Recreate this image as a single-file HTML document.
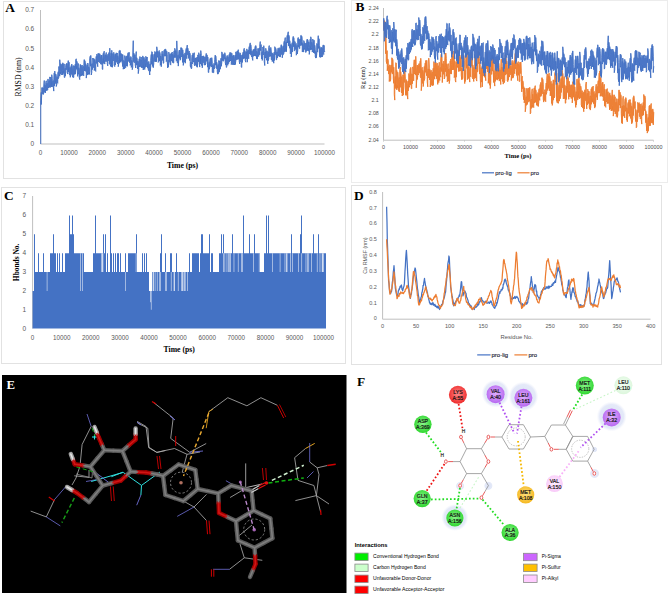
<!DOCTYPE html>
<html><head><meta charset="utf-8"><style>
html,body{margin:0;padding:0;background:#fff;}
svg{display:block;}
</style></head><body>
<svg width="669" height="595" viewBox="0 0 669 595">
<rect width="669" height="595" fill="#fff"/>
<rect x="3.5" y="1.5" width="341" height="177" fill="none" stroke="#e2e2e2" stroke-width="1"/>
<rect x="351.5" y="0.5" width="316" height="182" fill="none" stroke="#ececec" stroke-width="1"/>
<rect x="1.5" y="187.5" width="344" height="176" fill="none" stroke="#e2e2e2" stroke-width="1"/>
<rect x="351.5" y="185.5" width="310" height="179" fill="none" stroke="#e2e2e2" stroke-width="1"/>
<text x="5.3" y="11.8" font-size="13.4" fill="#000" font-family="'Liberation Serif', serif" text-anchor="start" font-weight="bold" >A</text>
<line x1="40.5" y1="10" x2="40.5" y2="144.0" stroke="#bfbfbf" stroke-width="1"/>
<line x1="40.5" y1="144.0" x2="324.5" y2="144.0" stroke="#bfbfbf" stroke-width="1"/>
<text x="34.2" y="146.3" font-size="6.5" fill="#595959" font-family="'Liberation Sans', sans-serif" text-anchor="end" font-weight="normal" >0</text>
<text x="34.2" y="127.16" font-size="6.5" fill="#595959" font-family="'Liberation Sans', sans-serif" text-anchor="end" font-weight="normal" >0.1</text>
<text x="34.2" y="108.02" font-size="6.5" fill="#595959" font-family="'Liberation Sans', sans-serif" text-anchor="end" font-weight="normal" >0.2</text>
<text x="34.2" y="88.88" font-size="6.5" fill="#595959" font-family="'Liberation Sans', sans-serif" text-anchor="end" font-weight="normal" >0.3</text>
<text x="34.2" y="69.74" font-size="6.5" fill="#595959" font-family="'Liberation Sans', sans-serif" text-anchor="end" font-weight="normal" >0.4</text>
<text x="34.2" y="50.599999999999994" font-size="6.5" fill="#595959" font-family="'Liberation Sans', sans-serif" text-anchor="end" font-weight="normal" >0.5</text>
<text x="34.2" y="31.459999999999997" font-size="6.5" fill="#595959" font-family="'Liberation Sans', sans-serif" text-anchor="end" font-weight="normal" >0.6</text>
<text x="34.2" y="12.319999999999983" font-size="6.5" fill="#595959" font-family="'Liberation Sans', sans-serif" text-anchor="end" font-weight="normal" >0.7</text>
<text x="40.5" y="155.3" font-size="6.3" fill="#595959" font-family="'Liberation Sans', sans-serif" text-anchor="middle" font-weight="normal" >0</text>
<text x="68.9" y="155.3" font-size="6.3" fill="#595959" font-family="'Liberation Sans', sans-serif" text-anchor="middle" font-weight="normal" >10000</text>
<text x="97.3" y="155.3" font-size="6.3" fill="#595959" font-family="'Liberation Sans', sans-serif" text-anchor="middle" font-weight="normal" >20000</text>
<text x="125.69999999999999" y="155.3" font-size="6.3" fill="#595959" font-family="'Liberation Sans', sans-serif" text-anchor="middle" font-weight="normal" >30000</text>
<text x="154.1" y="155.3" font-size="6.3" fill="#595959" font-family="'Liberation Sans', sans-serif" text-anchor="middle" font-weight="normal" >40000</text>
<text x="182.5" y="155.3" font-size="6.3" fill="#595959" font-family="'Liberation Sans', sans-serif" text-anchor="middle" font-weight="normal" >50000</text>
<text x="210.89999999999998" y="155.3" font-size="6.3" fill="#595959" font-family="'Liberation Sans', sans-serif" text-anchor="middle" font-weight="normal" >60000</text>
<text x="239.29999999999998" y="155.3" font-size="6.3" fill="#595959" font-family="'Liberation Sans', sans-serif" text-anchor="middle" font-weight="normal" >70000</text>
<text x="267.7" y="155.3" font-size="6.3" fill="#595959" font-family="'Liberation Sans', sans-serif" text-anchor="middle" font-weight="normal" >80000</text>
<text x="296.1" y="155.3" font-size="6.3" fill="#595959" font-family="'Liberation Sans', sans-serif" text-anchor="middle" font-weight="normal" >90000</text>
<text x="324.5" y="155.3" font-size="6.3" fill="#595959" font-family="'Liberation Sans', sans-serif" text-anchor="middle" font-weight="normal" >100000</text>
<text x="182.5" y="167.5" font-size="7.7" fill="#000" font-family="'Liberation Serif', serif" text-anchor="middle" font-weight="bold" >Time (ps)</text>
<text transform="translate(21.3,77) rotate(-90)" font-size="8" font-family="'Liberation Serif', serif" text-anchor="middle" fill="#000" textLength="39" lengthAdjust="spacingAndGlyphs">RMSD (nm)</text>
<polyline points="40.75,144.0 40.75,100.8 41.25,92.4 41.25,104.5 41.75,93.0 41.75,87.7 42.25,87.4 42.25,93.6 42.75,93.9 42.75,87.9 43.25,87.8 43.25,94.5 43.75,93.1 43.75,87.3 44.25,80.5 44.25,91.9 44.75,92.0 44.75,84.7 45.25,85.5 45.25,93.0 45.75,88.8 45.75,82.8 46.25,80.8 46.25,87.9 46.75,90.8 46.75,83.3 47.25,83.4 47.25,89.7 47.75,90.1 47.75,79.2 48.25,79.2 48.25,87.1 48.75,88.0 48.75,82.6 49.25,80.5 49.25,87.3 49.75,84.9 49.75,76.9 50.25,79.3 50.25,87.5 50.75,86.5 50.75,77.0 51.25,78.9 51.25,87.0 51.75,81.1 51.75,74.7 52.25,78.5 52.25,86.8 52.75,85.5 52.75,81.6 53.25,80.6 53.25,86.6 53.75,91.1 53.75,82.1 54.25,72.9 54.25,86.1 54.75,82.3 54.75,71.1 55.25,76.2 55.25,83.6 55.75,79.1 55.75,74.1 56.25,75.7 56.25,86.5 56.75,84.7 56.75,78.1 57.25,76.8 57.25,82.4 57.75,83.3 57.75,74.2 58.25,71.7 58.25,78.7 58.75,77.6 58.75,66.6 59.25,66.5 59.25,73.8 59.75,76.2 59.75,59.7 60.25,66.9 60.25,74.1 60.75,71.6 60.75,63.7 61.25,65.9 61.25,74.9 61.75,73.7 61.75,65.0 62.25,64.0 62.25,70.5 62.75,75.0 62.75,62.8 63.25,66.5 63.25,73.6 63.75,70.2 63.75,63.8 64.25,64.0 64.25,77.4 64.75,77.6 64.75,69.5 65.25,68.2 65.25,76.2 65.75,72.1 65.75,65.4 66.25,64.0 66.25,69.8 66.75,69.4 66.75,63.2 67.25,65.3 67.25,72.4 67.75,74.1 67.75,65.7 68.25,60.6 68.25,72.1 68.75,66.9 68.75,62.0 69.25,62.4 69.25,73.7 69.75,75.2 69.75,67.5 70.25,67.6 70.25,77.3 70.75,74.5 70.75,68.1 71.25,65.5 71.25,74.5 71.75,74.0 71.75,64.1 72.25,71.1 72.25,75.5 72.75,77.2 72.75,68.0 73.25,65.5 73.25,77.6 73.75,77.4 73.75,70.0 74.25,65.9 74.25,73.0 74.75,74.5 74.75,69.5 75.25,64.2 75.25,74.0 75.75,69.1 75.75,59.9 76.25,58.8 76.25,65.4 76.75,69.4 76.75,61.2 77.25,63.0 77.25,71.2 77.75,76.4 77.75,67.2 78.25,63.5 78.25,72.8 78.75,74.4 78.75,67.7 79.25,70.4 79.25,77.6 79.75,79.6 79.75,72.0 80.25,64.4 80.25,76.4 80.75,73.9 80.75,64.9 81.25,66.2 81.25,73.3 81.75,75.9 81.75,66.3 82.25,65.1 82.25,75.2 82.75,72.9 82.75,68.1 83.25,66.3 83.25,75.4 83.75,76.0 83.75,68.8 84.25,59.6 84.25,66.7 84.75,71.0 84.75,60.6 85.25,62.2 85.25,70.9 85.75,71.4 85.75,63.7 86.25,67.7 86.25,78.1 86.75,74.4 86.75,66.6 87.25,65.0 87.25,75.0 87.75,71.2 87.75,63.0 88.25,65.3 88.25,74.4 88.75,72.6 88.75,67.1 89.25,68.5 89.25,74.5 89.75,71.4 89.75,58.8 90.25,56.2 90.25,63.0 90.75,66.3 90.75,55.4 91.25,65.8 91.25,75.0 91.75,72.6 91.75,64.2 92.25,63.6 92.25,69.7 92.75,66.7 92.75,58.0 93.25,60.6 93.25,66.3 93.75,67.7 93.75,58.4 94.25,60.9 94.25,70.5 94.75,68.3 94.75,59.4 95.25,63.2 95.25,70.3 95.75,71.4 95.75,63.4 96.25,56.4 96.25,63.4 96.75,63.2 96.75,54.2 97.25,55.6 97.25,63.9 97.75,66.7 97.75,55.4 98.25,53.2 98.25,61.9 98.75,61.0 98.75,54.0 99.25,53.6 99.25,61.3 99.75,62.7 99.75,53.8 100.25,56.4 100.25,62.3 100.75,63.9 100.75,57.8 101.25,55.1 101.25,64.5 101.75,64.0 101.75,55.0 102.25,61.0 102.25,69.2 102.75,69.5 102.75,60.6 103.25,53.4 103.25,63.5 103.75,57.7 103.75,52.2 104.25,51.2 104.25,59.6 104.75,64.1 104.75,58.2 105.25,54.8 105.25,61.6 105.75,61.2 105.75,55.2 106.25,52.5 106.25,60.6 106.75,61.6 106.75,55.3 107.25,55.9 107.25,63.7 107.75,65.9 107.75,54.6 108.25,53.9 108.25,60.8 108.75,59.8 108.75,52.7 109.25,52.5 109.25,64.2 109.75,63.8 109.75,48.2 110.25,55.7 110.25,64.2 110.75,66.5 110.75,57.8 111.25,53.0 111.25,60.3 111.75,67.0 111.75,50.3 112.25,58.7 112.25,67.3 112.75,64.5 112.75,53.6 113.25,54.7 113.25,60.8 113.75,59.5 113.75,52.3 114.25,56.0 114.25,65.4 114.75,66.6 114.75,59.2 115.25,54.1 115.25,65.1 115.75,62.5 115.75,55.9 116.25,52.8 116.25,61.9 116.75,61.7 116.75,55.6 117.25,53.0 117.25,62.8 117.75,64.0 117.75,55.7 118.25,59.3 118.25,66.7 118.75,63.6 118.75,59.4 119.25,50.7 119.25,63.2 119.75,58.0 119.75,50.4 120.25,50.6 120.25,58.6 120.75,62.3 120.75,53.3 121.25,53.7 121.25,60.4 121.75,61.3 121.75,54.2 122.25,54.6 122.25,62.3 122.75,66.6 122.75,54.6 123.25,63.0 123.25,69.2 123.75,66.4 123.75,60.4 124.25,61.1 124.25,69.0 124.75,62.1 124.75,55.6 125.25,59.0 125.25,67.7 125.75,67.8 125.75,58.8 126.25,56.2 126.25,65.9 126.75,64.8 126.75,58.2 127.25,55.6 127.25,66.4 127.75,59.4 127.75,53.5 128.25,52.6 128.25,61.5 128.75,61.1 128.75,54.0 129.25,52.4 129.25,58.5 129.75,62.8 129.75,57.8 130.25,57.6 130.25,65.4 130.75,62.7 130.75,56.5 131.25,57.3 131.25,67.4 131.75,65.3 131.75,60.4 132.25,63.5 132.25,69.7 132.75,67.2 132.75,57.4 133.25,40.7 133.25,61.7 133.75,61.4 133.75,53.0 134.25,56.9 134.25,62.8 134.75,61.8 134.75,54.6 135.25,58.0 135.25,65.1 135.75,68.0 135.75,56.4 136.25,51.6 136.25,60.9 136.75,65.1 136.75,57.7 137.25,60.2 137.25,65.7 137.75,69.0 137.75,61.1 138.25,62.0 138.25,73.6 138.75,70.0 138.75,62.6 139.25,58.8 139.25,67.0 139.75,64.8 139.75,56.6 140.25,56.8 140.25,66.7 140.75,66.7 140.75,59.7 141.25,60.0 141.25,65.4 141.75,67.8 141.75,57.1 142.25,61.7 142.25,67.8 142.75,67.5 142.75,55.9 143.25,58.1 143.25,70.0 143.75,63.1 143.75,57.5 144.25,57.5 144.25,65.9 144.75,69.5 144.75,59.9 145.25,59.4 145.25,67.4 145.75,62.7 145.75,56.3 146.25,57.0 146.25,65.5 146.75,66.8 146.75,57.8 147.25,57.0 147.25,65.2 147.75,68.2 147.75,62.4 148.25,64.9 148.25,70.1 148.75,70.7 148.75,61.4 149.25,65.5 149.25,70.5 149.75,75.0 149.75,64.4 150.25,64.0 150.25,71.3 150.75,66.4 150.75,60.2 151.25,54.5 151.25,64.4 151.75,60.4 151.75,51.6 152.25,52.0 152.25,61.2 152.75,66.5 152.75,54.5 153.25,62.6 153.25,67.7 153.75,63.8 153.75,57.8 154.25,54.1 154.25,61.4 154.75,61.4 154.75,51.5 155.25,52.1 155.25,58.2 155.75,61.9 155.75,54.5 156.25,51.6 156.25,61.8 156.75,56.0 156.75,46.8 157.25,50.4 157.25,55.9 157.75,57.4 157.75,51.5 158.25,54.4 158.25,62.4 158.75,61.9 158.75,51.7 159.25,50.5 159.25,57.5 159.75,61.0 159.75,52.3 160.25,55.1 160.25,65.3 160.75,64.2 160.75,56.1 161.25,59.2 161.25,66.7 161.75,59.7 161.75,53.4 162.25,51.2 162.25,59.1 162.75,60.5 162.75,53.7 163.25,57.9 163.25,63.4 163.75,63.0 163.75,51.5 164.25,50.2 164.25,56.0 164.75,56.1 164.75,49.3 165.25,49.0 165.25,54.2 165.75,56.2 165.75,49.5 166.25,52.5 166.25,61.6 166.75,60.1 166.75,51.3 167.25,54.7 167.25,61.9 167.75,68.0 167.75,61.5 168.25,60.2 168.25,67.0 168.75,62.9 168.75,52.1 169.25,53.9 169.25,61.6 169.75,62.3 169.75,55.6 170.25,54.2 170.25,64.4 170.75,65.1 170.75,57.0 171.25,53.0 171.25,60.8 171.75,61.0 171.75,53.3 172.25,52.0 172.25,59.8 172.75,62.6 172.75,54.3 173.25,56.1 173.25,63.1 173.75,62.9 173.75,52.7 174.25,50.8 174.25,57.7 174.75,54.7 174.75,48.3 175.25,50.0 175.25,57.2 175.75,57.6 175.75,50.7 176.25,53.6 176.25,61.2 176.75,60.7 176.75,40.9 177.25,53.0 177.25,62.9 177.75,63.0 177.75,55.5 178.25,55.2 178.25,66.1 178.75,60.3 178.75,53.2 179.25,50.2 179.25,56.0 179.75,58.5 179.75,50.0 180.25,54.1 180.25,60.2 180.75,55.2 180.75,47.7 181.25,47.5 181.25,55.5 181.75,56.9 181.75,48.0 182.25,51.0 182.25,57.9 182.75,62.5 182.75,49.8 183.25,58.3 183.25,65.4 183.75,62.2 183.75,54.4 184.25,55.4 184.25,62.0 184.75,60.4 184.75,53.1 185.25,53.1 185.25,63.2 185.75,58.3 185.75,51.9 186.25,48.4 186.25,58.2 186.75,58.6 186.75,48.5 187.25,45.1 187.25,54.9 187.75,54.5 187.75,48.1 188.25,51.3 188.25,58.4 188.75,57.3 188.75,52.4 189.25,51.0 189.25,58.4 189.75,60.6 189.75,52.9 190.25,55.2 190.25,66.1 190.75,67.4 190.75,62.0 191.25,62.3 191.25,68.9 191.75,68.2 191.75,59.0 192.25,55.0 192.25,64.0 192.75,62.6 192.75,53.3 193.25,53.4 193.25,60.6 193.75,62.0 193.75,55.4 194.25,52.7 194.25,64.4 194.75,65.9 194.75,59.5 195.25,58.0 195.25,65.2 195.75,64.9 195.75,57.9 196.25,57.7 196.25,63.7 196.75,66.6 196.75,58.7 197.25,57.1 197.25,67.3 197.75,61.6 197.75,54.9 198.25,55.9 198.25,61.9 198.75,59.0 198.75,52.7 199.25,57.0 199.25,64.2 199.75,67.1 199.75,59.5 200.25,54.1 200.25,64.1 200.75,56.0 200.75,50.6 201.25,55.3 201.25,62.5 201.75,65.6 201.75,56.8 202.25,56.0 202.25,67.8 202.75,63.7 202.75,57.3 203.25,55.8 203.25,61.6 203.75,62.7 203.75,56.6 204.25,58.4 204.25,65.0 204.75,65.0 204.75,56.8 205.25,57.6 205.25,65.1 205.75,63.9 205.75,57.0 206.25,53.4 206.25,61.3 206.75,61.0 206.75,55.3 207.25,55.1 207.25,61.5 207.75,67.2 207.75,57.0 208.25,63.0 208.25,72.4 208.75,72.5 208.75,66.1 209.25,62.4 209.25,69.3 209.75,67.3 209.75,60.4 210.25,58.4 210.25,65.9 210.75,66.4 210.75,57.9 211.25,59.7 211.25,65.3 211.75,67.0 211.75,57.7 212.25,63.7 212.25,72.5 212.75,72.3 212.75,65.1 213.25,65.5 213.25,72.7 213.75,72.6 213.75,63.5 214.25,63.5 214.25,68.9 214.75,67.9 214.75,59.7 215.25,55.1 215.25,61.3 215.75,65.2 215.75,56.1 216.25,61.2 216.25,67.9 216.75,68.7 216.75,62.3 217.25,65.7 217.25,71.8 217.75,74.2 217.75,67.0 218.25,64.5 218.25,73.7 218.75,72.3 218.75,60.5 219.25,62.5 219.25,71.9 219.75,67.9 219.75,60.8 220.25,62.2 220.25,69.2 220.75,65.0 220.75,58.6 221.25,58.1 221.25,66.3 221.75,62.9 221.75,51.9 222.25,53.0 222.25,58.7 222.75,60.7 222.75,54.7 223.25,55.6 223.25,61.3 223.75,60.5 223.75,54.0 224.25,54.4 224.25,59.3 224.75,58.4 224.75,52.7 225.25,54.8 225.25,62.6 225.75,65.1 225.75,57.6 226.25,58.8 226.25,67.4 226.75,67.2 226.75,56.3 227.25,55.4 227.25,61.1 227.75,65.3 227.75,56.6 228.25,58.8 228.25,63.5 228.75,63.6 228.75,56.7 229.25,54.4 229.25,61.9 229.75,59.6 229.75,52.6 230.25,53.1 230.25,61.0 230.75,59.7 230.75,52.4 231.25,57.7 231.25,64.5 231.75,63.1 231.75,53.2 232.25,58.2 232.25,64.7 232.75,63.4 232.75,55.8 233.25,55.5 233.25,64.9 233.75,62.8 233.75,55.2 234.25,58.5 234.25,63.8 234.75,65.0 234.75,59.1 235.25,55.2 235.25,64.5 235.75,61.2 235.75,51.9 236.25,52.8 236.25,60.1 236.75,59.5 236.75,52.4 237.25,51.0 237.25,58.2 237.75,59.5 237.75,52.0 238.25,49.7 238.25,59.0 238.75,59.0 238.75,52.2 239.25,54.4 239.25,61.6 239.75,64.0 239.75,54.9 240.25,52.9 240.25,62.0 240.75,61.6 240.75,54.8 241.25,55.5 241.25,67.1 241.75,67.5 241.75,59.7 242.25,54.8 242.25,62.5 242.75,58.9 242.75,53.3 243.25,52.1 243.25,58.8 243.75,57.0 243.75,49.8 244.25,48.3 244.25,58.5 244.75,56.3 244.75,50.5 245.25,52.0 245.25,60.7 245.75,62.2 245.75,54.4 246.25,51.8 246.25,58.8 246.75,57.2 246.75,48.9 247.25,50.6 247.25,62.2 247.75,56.3 247.75,51.7 248.25,50.2 248.25,58.0 248.75,58.7 248.75,51.1 249.25,46.6 249.25,54.1 249.75,52.0 249.75,45.0 250.25,42.9 250.25,48.5 250.75,54.8 250.75,44.8 251.25,48.7 251.25,55.5 251.75,56.9 251.75,51.3 252.25,51.1 252.25,58.1 252.75,60.4 252.75,53.8 253.25,49.6 253.25,56.4 253.75,55.0 253.75,49.9 254.25,48.9 254.25,54.1 254.75,56.0 254.75,51.5 255.25,46.4 255.25,54.1 255.75,56.2 255.75,45.5 256.25,48.4 256.25,54.7 256.75,58.9 256.75,51.3 257.25,52.7 257.25,59.1 257.75,54.5 257.75,48.5 258.25,48.6 258.25,56.2 258.75,56.5 258.75,49.5 259.25,48.1 259.25,54.5 259.75,54.8 259.75,46.4 260.25,41.6 260.25,48.8 260.75,50.7 260.75,45.2 261.25,44.7 261.25,54.9 261.75,59.0 261.75,53.1 262.25,51.6 262.25,60.4 262.75,56.3 262.75,47.0 263.25,47.9 263.25,54.9 263.75,54.1 263.75,45.7 264.25,51.6 264.25,61.8 264.75,65.5 264.75,55.2 265.25,51.7 265.25,58.0 265.75,57.0 265.75,48.3 266.25,51.9 266.25,58.4 266.75,60.3 266.75,51.0 267.25,50.9 267.25,57.7 267.75,63.9 267.75,53.7 268.25,51.9 268.25,60.7 268.75,58.9 268.75,47.5 269.25,45.6 269.25,56.3 269.75,56.7 269.75,48.7 270.25,48.9 270.25,54.7 270.75,56.4 270.75,47.4 271.25,52.2 271.25,59.7 271.75,60.0 271.75,52.6 272.25,53.2 272.25,61.6 272.75,59.6 272.75,53.5 273.25,53.7 273.25,58.8 273.75,63.2 273.75,57.4 274.25,52.0 274.25,60.6 274.75,56.5 274.75,46.7 275.25,47.8 275.25,54.6 275.75,54.6 275.75,48.4 276.25,51.2 276.25,59.8 276.75,59.6 276.75,52.1 277.25,51.8 277.25,58.0 277.75,54.1 277.75,49.4 278.25,47.9 278.25,53.8 278.75,56.1 278.75,49.0 279.25,49.7 279.25,56.8 279.75,55.9 279.75,47.7 280.25,50.7 280.25,57.1 280.75,53.9 280.75,47.8 281.25,44.7 281.25,53.2 281.75,54.6 281.75,45.6 282.25,52.0 282.25,57.8 282.75,54.6 282.75,48.0 283.25,46.2 283.25,54.6 283.75,53.8 283.75,44.4 284.25,41.3 284.25,52.2 284.75,47.7 284.75,40.9 285.25,37.6 285.25,51.3 285.75,51.3 285.75,44.4 286.25,41.9 286.25,51.8 286.75,45.2 286.75,39.4 287.25,35.4 287.25,43.0 287.75,40.9 287.75,34.0 288.25,31.8 288.25,40.1 288.75,46.1 288.75,35.2 289.25,36.5 289.25,44.2 289.75,48.3 289.75,40.7 290.25,46.1 290.25,53.8 290.75,53.1 290.75,44.2 291.25,47.4 291.25,56.9 291.75,51.5 291.75,44.6 292.25,42.6 292.25,52.0 292.75,45.9 292.75,38.8 293.25,36.4 293.25,42.1 293.75,46.8 293.75,37.7 294.25,44.4 294.25,51.1 294.75,50.3 294.75,41.4 295.25,42.2 295.25,49.5 295.75,49.1 295.75,44.4 296.25,43.5 296.25,55.2 296.75,53.9 296.75,46.2 297.25,45.3 297.25,54.0 297.75,50.8 297.75,38.5 298.25,37.5 298.25,44.7 298.75,47.2 298.75,38.7 299.25,40.9 299.25,48.6 299.75,48.6 299.75,39.4 300.25,39.0 300.25,45.5 300.75,45.5 300.75,35.5 301.25,35.4 301.25,41.6 301.75,45.4 301.75,36.3 302.25,41.6 302.25,52.0 302.75,51.2 302.75,43.4 303.25,45.8 303.25,52.1 303.75,47.2 303.75,40.6 304.25,41.7 304.25,47.8 304.75,49.6 304.75,42.9 305.25,45.4 305.25,51.4 305.75,52.5 305.75,43.3 306.25,43.1 306.25,51.5 306.75,50.0 306.75,41.1 307.25,39.1 307.25,50.8 307.75,45.0 307.75,39.8 308.25,42.9 308.25,47.5 308.75,51.2 308.75,41.9 309.25,47.3 309.25,54.4 309.75,50.4 309.75,44.5 310.25,39.2 310.25,50.0 310.75,45.3 310.75,36.8 311.25,39.3 311.25,47.3 311.75,49.8 311.75,42.3 312.25,45.2 312.25,52.1 312.75,50.1 312.75,39.1 313.25,41.7 313.25,50.0 313.75,53.0 313.75,40.3 314.25,40.3 314.25,48.4 314.75,53.5 314.75,45.3 315.25,49.7 315.25,56.5 315.75,58.1 315.75,51.7 316.25,51.5 316.25,57.8 316.75,54.0 316.75,43.5 317.25,44.1 317.25,51.1 317.75,52.2 317.75,45.8 318.25,35.7 318.25,48.5 318.75,46.0 318.75,38.5 319.25,39.2 319.25,47.1 319.75,56.9 319.75,46.5 320.25,48.3 320.25,57.5 320.75,54.7 320.75,49.5 321.25,47.5 321.25,57.1 321.75,56.0 321.75,47.5 322.25,48.9 322.25,56.9 322.75,55.3 322.75,47.2 323.25,44.9 323.25,53.7 323.75,54.5 323.75,45.1 324.25,45.8 324.25,52.0 324.75,51.5 324.75,51.5" fill="none" stroke="#4472c4" stroke-width="1.0" stroke-linejoin="round"/>
<text x="355.5" y="10.8" font-size="13.4" fill="#000" font-family="'Liberation Serif', serif" text-anchor="start" font-weight="bold" >B</text>
<line x1="383.5" y1="8" x2="383.5" y2="140.2" stroke="#bfbfbf" stroke-width="1"/>
<line x1="383.5" y1="140.2" x2="653.5" y2="140.2" stroke="#bfbfbf" stroke-width="1"/>
<text x="378.8" y="141.6" font-size="5.3" fill="#505050" font-family="'Liberation Sans', sans-serif" text-anchor="end" font-weight="normal" >2.04</text>
<text x="378.8" y="128.45" font-size="5.3" fill="#505050" font-family="'Liberation Sans', sans-serif" text-anchor="end" font-weight="normal" >2.06</text>
<text x="378.8" y="115.3" font-size="5.3" fill="#505050" font-family="'Liberation Sans', sans-serif" text-anchor="end" font-weight="normal" >2.08</text>
<text x="378.8" y="102.14999999999999" font-size="5.3" fill="#505050" font-family="'Liberation Sans', sans-serif" text-anchor="end" font-weight="normal" >2.1</text>
<text x="378.8" y="89.0" font-size="5.3" fill="#505050" font-family="'Liberation Sans', sans-serif" text-anchor="end" font-weight="normal" >2.12</text>
<text x="378.8" y="75.85" font-size="5.3" fill="#505050" font-family="'Liberation Sans', sans-serif" text-anchor="end" font-weight="normal" >2.14</text>
<text x="378.8" y="62.69999999999998" font-size="5.3" fill="#505050" font-family="'Liberation Sans', sans-serif" text-anchor="end" font-weight="normal" >2.16</text>
<text x="378.8" y="49.54999999999999" font-size="5.3" fill="#505050" font-family="'Liberation Sans', sans-serif" text-anchor="end" font-weight="normal" >2.18</text>
<text x="378.8" y="36.399999999999984" font-size="5.3" fill="#505050" font-family="'Liberation Sans', sans-serif" text-anchor="end" font-weight="normal" >2.2</text>
<text x="378.8" y="23.24999999999998" font-size="5.3" fill="#505050" font-family="'Liberation Sans', sans-serif" text-anchor="end" font-weight="normal" >2.22</text>
<text x="378.8" y="10.099999999999989" font-size="5.3" fill="#505050" font-family="'Liberation Sans', sans-serif" text-anchor="end" font-weight="normal" >2.24</text>
<line x1="383.5" y1="140.2" x2="383.5" y2="141.7" stroke="#bfbfbf" stroke-width="0.7"/>
<text x="383.5" y="149.2" font-size="5.35" fill="#505050" font-family="'Liberation Sans', sans-serif" text-anchor="middle" font-weight="normal" >0</text>
<line x1="410.5" y1="140.2" x2="410.5" y2="141.7" stroke="#bfbfbf" stroke-width="0.7"/>
<text x="410.5" y="149.2" font-size="5.35" fill="#505050" font-family="'Liberation Sans', sans-serif" text-anchor="middle" font-weight="normal" >10000</text>
<line x1="437.5" y1="140.2" x2="437.5" y2="141.7" stroke="#bfbfbf" stroke-width="0.7"/>
<text x="437.5" y="149.2" font-size="5.35" fill="#505050" font-family="'Liberation Sans', sans-serif" text-anchor="middle" font-weight="normal" >20000</text>
<line x1="464.5" y1="140.2" x2="464.5" y2="141.7" stroke="#bfbfbf" stroke-width="0.7"/>
<text x="464.5" y="149.2" font-size="5.35" fill="#505050" font-family="'Liberation Sans', sans-serif" text-anchor="middle" font-weight="normal" >30000</text>
<line x1="491.5" y1="140.2" x2="491.5" y2="141.7" stroke="#bfbfbf" stroke-width="0.7"/>
<text x="491.5" y="149.2" font-size="5.35" fill="#505050" font-family="'Liberation Sans', sans-serif" text-anchor="middle" font-weight="normal" >40000</text>
<line x1="518.5" y1="140.2" x2="518.5" y2="141.7" stroke="#bfbfbf" stroke-width="0.7"/>
<text x="518.5" y="149.2" font-size="5.35" fill="#505050" font-family="'Liberation Sans', sans-serif" text-anchor="middle" font-weight="normal" >50000</text>
<line x1="545.5" y1="140.2" x2="545.5" y2="141.7" stroke="#bfbfbf" stroke-width="0.7"/>
<text x="545.5" y="149.2" font-size="5.35" fill="#505050" font-family="'Liberation Sans', sans-serif" text-anchor="middle" font-weight="normal" >60000</text>
<line x1="572.5" y1="140.2" x2="572.5" y2="141.7" stroke="#bfbfbf" stroke-width="0.7"/>
<text x="572.5" y="149.2" font-size="5.35" fill="#505050" font-family="'Liberation Sans', sans-serif" text-anchor="middle" font-weight="normal" >70000</text>
<line x1="599.5" y1="140.2" x2="599.5" y2="141.7" stroke="#bfbfbf" stroke-width="0.7"/>
<text x="599.5" y="149.2" font-size="5.35" fill="#505050" font-family="'Liberation Sans', sans-serif" text-anchor="middle" font-weight="normal" >80000</text>
<line x1="626.5" y1="140.2" x2="626.5" y2="141.7" stroke="#bfbfbf" stroke-width="0.7"/>
<text x="626.5" y="149.2" font-size="5.35" fill="#505050" font-family="'Liberation Sans', sans-serif" text-anchor="middle" font-weight="normal" >90000</text>
<line x1="653.5" y1="140.2" x2="653.5" y2="141.7" stroke="#bfbfbf" stroke-width="0.7"/>
<text x="653.5" y="149.2" font-size="5.35" fill="#505050" font-family="'Liberation Sans', sans-serif" text-anchor="middle" font-weight="normal" >100000</text>
<text x="518" y="158" font-size="6.6" fill="#000" font-family="'Liberation Serif', serif" text-anchor="middle" font-weight="bold" >Time (ps)</text>
<text transform="translate(365.3,78) rotate(-90)" font-size="6.5" font-family="'Liberation Serif', serif" text-anchor="middle" fill="#000">Rg (nm)</text>
<polyline points="383.75,29.7 383.75,20.6 384.25,20.3 384.25,29.6 384.75,34.0 384.75,21.3 385.25,28.6 385.25,40.1 385.75,53.8 385.75,31.4 386.25,47.0 386.25,61.2 386.75,63.6 386.75,51.8 387.25,50.7 387.25,70.8 387.75,67.1 387.75,58.9 388.25,61.0 388.25,69.4 388.75,74.1 388.75,66.3 389.25,68.5 389.25,81.5 389.75,78.4 389.75,64.8 390.25,69.9 390.25,81.3 390.75,79.1 390.75,66.5 391.25,65.0 391.25,72.5 391.75,68.2 391.75,57.8 392.25,58.0 392.25,74.1 392.75,71.2 392.75,59.4 393.25,69.5 393.25,78.2 393.75,83.3 393.75,67.2 394.25,82.5 394.25,94.4 394.75,100.1 394.75,84.4 395.25,76.4 395.25,88.5 395.75,79.5 395.75,62.7 396.25,63.1 396.25,83.6 396.75,89.8 396.75,70.4 397.25,75.9 397.25,88.3 397.75,84.6 397.75,72.2 398.25,78.2 398.25,89.8 398.75,90.8 398.75,79.3 399.25,77.5 399.25,92.0 399.75,79.5 399.75,71.1 400.25,67.0 400.25,75.0 400.75,87.4 400.75,71.7 401.25,77.5 401.25,92.2 401.75,92.9 401.75,76.7 402.25,81.8 402.25,96.0 402.75,84.8 402.75,74.8 403.25,75.0 403.25,95.2 403.75,86.4 403.75,76.8 404.25,68.1 404.25,81.2 404.75,82.5 404.75,70.8 405.25,76.9 405.25,87.1 405.75,95.3 405.75,82.9 406.25,79.6 406.25,89.2 406.75,95.3 406.75,80.9 407.25,83.5 407.25,95.6 407.75,99.1 407.75,85.8 408.25,80.9 408.25,90.9 408.75,83.4 408.75,73.6 409.25,74.8 409.25,87.3 409.75,85.4 409.75,74.4 410.25,68.7 410.25,85.0 410.75,81.8 410.75,67.4 411.25,76.2 411.25,88.5 411.75,88.8 411.75,73.9 412.25,74.1 412.25,83.8 412.75,78.9 412.75,66.9 413.25,69.4 413.25,80.2 413.75,80.9 413.75,65.7 414.25,59.8 414.25,74.1 414.75,72.9 414.75,64.5 415.25,59.9 415.25,71.9 415.75,75.1 415.75,56.3 416.25,71.1 416.25,87.8 416.75,79.0 416.75,70.9 417.25,65.0 417.25,79.5 417.75,75.8 417.75,66.9 418.25,65.7 418.25,74.9 418.75,73.6 418.75,63.8 419.25,63.7 419.25,72.5 419.75,73.0 419.75,64.9 420.25,60.9 420.25,76.3 420.75,77.8 420.75,58.3 421.25,71.1 421.25,90.7 421.75,86.0 421.75,68.8 422.25,67.3 422.25,79.1 422.75,83.5 422.75,70.3 423.25,73.7 423.25,86.5 423.75,81.2 423.75,76.3 424.25,66.6 424.25,80.5 424.75,78.4 424.75,67.8 425.25,62.9 425.25,71.1 425.75,72.4 425.75,60.5 426.25,64.2 426.25,73.2 426.75,75.8 426.75,60.3 427.25,70.2 427.25,82.0 427.75,86.8 427.75,71.8 428.25,68.9 428.25,76.3 428.75,77.9 428.75,58.2 429.25,66.0 429.25,76.1 429.75,80.0 429.75,69.3 430.25,71.1 430.25,87.0 430.75,80.0 430.75,72.4 431.25,70.3 431.25,78.7 431.75,85.4 431.75,73.9 432.25,72.1 432.25,80.2 432.75,85.8 432.75,73.2 433.25,68.2 433.25,85.1 433.75,76.2 433.75,61.7 434.25,62.2 434.25,76.3 434.75,79.2 434.75,67.9 435.25,63.2 435.25,76.3 435.75,73.8 435.75,62.2 436.25,63.7 436.25,74.0 436.75,78.8 436.75,67.1 437.25,63.2 437.25,78.9 437.75,84.4 437.75,67.5 438.25,65.7 438.25,75.2 438.75,82.6 438.75,70.9 439.25,62.3 439.25,76.1 439.75,80.5 439.75,69.7 440.25,67.4 440.25,74.4 440.75,77.2 440.75,60.0 441.25,54.2 441.25,68.0 441.75,71.6 441.75,57.0 442.25,67.8 442.25,82.6 442.75,74.8 442.75,63.7 443.25,65.0 443.25,74.4 443.75,67.9 443.75,61.1 444.25,67.0 444.25,79.0 444.75,77.3 444.75,62.4 445.25,53.8 445.25,71.8 445.75,67.4 445.75,53.0 446.25,58.6 446.25,76.3 446.75,73.4 446.75,63.9 447.25,69.6 447.25,81.8 447.75,79.9 447.75,66.4 448.25,63.6 448.25,79.3 448.75,81.2 448.75,69.0 449.25,71.5 449.25,83.6 449.75,79.9 449.75,67.7 450.25,60.9 450.25,71.9 450.75,73.9 450.75,59.1 451.25,62.5 451.25,74.1 451.75,64.6 451.75,57.7 452.25,54.1 452.25,69.9 452.75,68.9 452.75,56.8 453.25,55.9 453.25,69.9 453.75,61.8 453.75,51.1 454.25,52.7 454.25,77.6 454.75,75.0 454.75,60.9 455.25,64.5 455.25,80.2 455.75,82.1 455.75,72.4 456.25,62.0 456.25,77.2 456.75,67.4 456.75,55.8 457.25,55.5 457.25,67.6 457.75,65.4 457.75,49.9 458.25,51.3 458.25,63.4 458.75,71.6 458.75,52.7 459.25,61.2 459.25,69.4 459.75,71.2 459.75,54.9 460.25,57.8 460.25,71.0 460.75,69.1 460.75,60.8 461.25,57.0 461.25,75.2 461.75,79.7 461.75,68.0 462.25,70.8 462.25,79.3 462.75,78.2 462.75,62.9 463.25,60.5 463.25,68.2 463.75,68.6 463.75,55.4 464.25,60.4 464.25,77.1 464.75,83.6 464.75,69.6 465.25,71.0 465.25,81.5 465.75,72.8 465.75,59.8 466.25,53.8 466.25,63.9 466.75,68.4 466.75,56.0 467.25,51.8 467.25,79.7 467.75,79.1 467.75,64.8 468.25,64.8 468.25,78.5 468.75,77.0 468.75,67.2 469.25,69.9 469.25,78.3 469.75,82.1 469.75,71.5 470.25,64.9 470.25,75.0 470.75,76.8 470.75,62.8 471.25,52.6 471.25,66.3 471.75,65.5 471.75,52.2 472.25,58.5 472.25,77.5 472.75,78.8 472.75,64.9 473.25,66.4 473.25,77.2 473.75,81.5 473.75,68.1 474.25,67.4 474.25,78.7 474.75,72.6 474.75,55.8 475.25,55.8 475.25,71.1 475.75,78.1 475.75,65.1 476.25,71.3 476.25,79.5 476.75,81.1 476.75,63.4 477.25,63.6 477.25,72.0 477.75,71.7 477.75,55.6 478.25,51.4 478.25,63.8 478.75,63.3 478.75,51.8 479.25,58.6 479.25,69.2 479.75,74.1 479.75,62.1 480.25,66.7 480.25,78.2 480.75,87.5 480.75,74.3 481.25,68.3 481.25,79.8 481.75,82.2 481.75,68.6 482.25,66.3 482.25,86.9 482.75,70.3 482.75,62.1 483.25,60.6 483.25,70.4 483.75,76.1 483.75,62.6 484.25,62.3 484.25,75.0 484.75,77.3 484.75,64.4 485.25,63.7 485.25,74.5 485.75,80.7 485.75,67.6 486.25,61.0 486.25,69.0 486.75,64.5 486.75,51.5 487.25,54.8 487.25,64.3 487.75,72.0 487.75,59.1 488.25,67.6 488.25,83.3 488.75,77.6 488.75,66.3 489.25,68.5 489.25,81.8 489.75,85.3 489.75,69.0 490.25,78.5 490.25,88.6 490.75,82.3 490.75,64.6 491.25,57.9 491.25,74.2 491.75,74.3 491.75,56.5 492.25,55.1 492.25,66.9 492.75,71.2 492.75,62.9 493.25,56.8 493.25,72.7 493.75,82.5 493.75,70.7 494.25,72.9 494.25,81.6 494.75,86.1 494.75,72.7 495.25,62.2 495.25,81.4 495.75,74.4 495.75,59.7 496.25,67.5 496.25,77.9 496.75,79.5 496.75,71.0 497.25,67.8 497.25,80.2 497.75,76.6 497.75,64.1 498.25,59.8 498.25,72.5 498.75,79.2 498.75,63.3 499.25,67.5 499.25,81.1 499.75,78.5 499.75,69.8 500.25,70.1 500.25,76.4 500.75,84.5 500.75,70.0 501.25,59.1 501.25,77.4 501.75,78.9 501.75,67.1 502.25,67.7 502.25,79.5 502.75,81.6 502.75,71.1 503.25,58.9 503.25,84.1 503.75,73.1 503.75,58.3 504.25,72.3 504.25,82.7 504.75,80.4 504.75,68.2 505.25,54.9 505.25,75.1 505.75,67.3 505.75,53.7 506.25,59.8 506.25,73.9 506.75,74.2 506.75,61.1 507.25,64.5 507.25,80.9 507.75,81.7 507.75,68.9 508.25,67.5 508.25,80.3 508.75,72.7 508.75,59.2 509.25,63.5 509.25,77.1 509.75,74.3 509.75,63.8 510.25,66.3 510.25,73.4 510.75,74.8 510.75,65.9 511.25,67.5 511.25,80.6 511.75,74.3 511.75,62.9 512.25,60.4 512.25,70.4 512.75,78.2 512.75,62.6 513.25,66.1 513.25,77.5 513.75,75.5 513.75,62.5 514.25,60.4 514.25,71.6 514.75,73.7 514.75,60.7 515.25,53.4 515.25,69.1 515.75,66.4 515.75,52.3 516.25,60.6 516.25,70.2 516.75,75.5 516.75,66.4 517.25,63.3 517.25,75.6 517.75,80.7 517.75,63.0 518.25,61.6 518.25,71.7 518.75,75.4 518.75,64.2 519.25,65.6 519.25,81.7 519.75,81.3 519.75,62.4 520.25,64.1 520.25,73.1 520.75,73.6 520.75,62.0 521.25,70.9 521.25,81.3 521.75,91.9 521.75,78.1 522.25,76.1 522.25,88.8 522.75,88.8 522.75,80.8 523.25,83.1 523.25,95.4 523.75,99.8 523.75,86.7 524.25,91.1 524.25,102.9 524.75,98.3 524.75,88.0 525.25,94.6 525.25,111.8 525.75,107.9 525.75,99.0 526.25,96.7 526.25,105.4 526.75,101.5 526.75,88.3 527.25,93.8 527.25,104.5 527.75,100.3 527.75,89.1 528.25,88.1 528.25,101.5 528.75,102.2 528.75,90.6 529.25,87.8 529.25,99.5 529.75,101.4 529.75,87.4 530.25,98.0 530.25,113.8 530.75,112.7 530.75,100.7 531.25,99.3 531.25,108.5 531.75,104.1 531.75,91.2 532.25,88.8 532.25,104.4 532.75,107.5 532.75,94.2 533.25,100.4 533.25,106.9 533.75,107.5 533.75,90.9 534.25,87.9 534.25,103.1 534.75,99.6 534.75,87.5 535.25,85.7 535.25,99.1 535.75,102.4 535.75,89.8 536.25,92.4 536.25,101.1 536.75,105.1 536.75,94.2 537.25,97.1 537.25,105.8 537.75,102.6 537.75,92.6 538.25,93.2 538.25,106.5 538.75,102.4 538.75,90.1 539.25,88.7 539.25,97.8 539.75,100.4 539.75,92.6 540.25,84.5 540.25,94.1 540.75,96.6 540.75,82.4 541.25,85.9 541.25,95.7 541.75,86.9 541.75,77.8 542.25,77.8 542.25,92.9 542.75,93.8 542.75,79.2 543.25,84.8 543.25,99.2 543.75,102.1 543.75,91.9 544.25,92.4 544.25,100.5 544.75,99.2 544.75,89.7 545.25,92.0 545.25,101.0 545.75,101.7 545.75,88.7 546.25,83.0 546.25,94.4 546.75,92.4 546.75,80.2 547.25,73.8 547.25,87.2 547.75,90.6 547.75,79.3 548.25,75.7 548.25,88.5 548.75,83.8 548.75,73.5 549.25,73.1 549.25,88.9 549.75,90.9 549.75,76.4 550.25,80.7 550.25,95.9 550.75,89.8 550.75,82.1 551.25,81.4 551.25,90.0 551.75,103.6 551.75,83.9 552.25,83.7 552.25,105.4 552.75,102.3 552.75,89.4 553.25,79.8 553.25,100.2 553.75,94.3 553.75,80.0 554.25,86.4 554.25,97.9 554.75,96.2 554.75,73.4 555.25,72.2 555.25,82.0 555.75,82.0 555.75,70.8 556.25,71.0 556.25,80.3 556.75,101.4 556.75,73.2 557.25,93.0 557.25,102.9 557.75,95.3 557.75,83.1 558.25,89.8 558.25,103.4 558.75,101.5 558.75,88.2 559.25,85.1 559.25,101.0 559.75,94.3 559.75,77.0 560.25,88.5 560.25,98.7 560.75,95.1 560.75,81.4 561.25,78.5 561.25,92.5 561.75,87.7 561.75,79.2 562.25,70.3 562.25,87.9 562.75,87.1 562.75,73.4 563.25,80.7 563.25,98.9 563.75,98.0 563.75,84.4 564.25,76.7 564.25,90.8 564.75,98.8 564.75,84.8 565.25,87.2 565.25,103.3 565.75,103.0 565.75,94.1 566.25,86.1 566.25,99.5 566.75,90.4 566.75,76.6 567.25,75.7 567.25,89.4 567.75,92.6 567.75,83.9 568.25,77.6 568.25,91.6 568.75,99.3 568.75,87.3 569.25,81.3 569.25,93.2 569.75,97.0 569.75,84.6 570.25,86.8 570.25,95.4 570.75,97.3 570.75,85.8 571.25,84.7 571.25,98.6 571.75,96.9 571.75,85.0 572.25,86.1 572.25,102.9 572.75,96.0 572.75,81.7 573.25,85.5 573.25,97.2 573.75,89.8 573.75,81.9 574.25,80.8 574.25,96.0 574.75,100.6 574.75,86.9 575.25,93.3 575.25,101.6 575.75,107.4 575.75,95.0 576.25,91.6 576.25,105.1 576.75,100.1 576.75,79.5 577.25,78.9 577.25,94.2 577.75,99.9 577.75,88.9 578.25,80.5 578.25,97.8 578.75,90.7 578.75,75.7 579.25,81.3 579.25,99.0 579.75,96.1 579.75,83.5 580.25,88.3 580.25,98.1 580.75,97.7 580.75,86.2 581.25,89.8 581.25,104.6 581.75,106.9 581.75,92.9 582.25,90.7 582.25,106.9 582.75,108.1 582.75,93.1 583.25,92.5 583.25,106.1 583.75,111.7 583.75,92.5 584.25,91.5 584.25,108.9 584.75,100.8 584.75,89.8 585.25,91.0 585.25,100.7 585.75,100.3 585.75,85.0 586.25,82.0 586.25,102.1 586.75,108.9 586.75,96.2 587.25,93.2 587.25,105.1 587.75,101.3 587.75,89.2 588.25,92.6 588.25,103.6 588.75,100.1 588.75,91.0 589.25,92.0 589.25,107.4 589.75,108.9 589.75,97.4 590.25,96.0 590.25,110.1 590.75,107.2 590.75,94.4 591.25,88.8 591.25,104.3 591.75,95.3 591.75,87.8 592.25,86.8 592.25,97.9 592.75,102.3 592.75,87.2 593.25,86.1 593.25,100.9 593.75,103.8 593.75,92.5 594.25,91.5 594.25,104.4 594.75,108.1 594.75,94.9 595.25,93.5 595.25,106.7 595.75,101.1 595.75,88.2 596.25,84.3 596.25,97.2 596.75,97.0 596.75,87.5 597.25,86.6 597.25,99.9 597.75,93.1 597.75,85.3 598.25,80.7 598.25,93.1 598.75,91.7 598.75,82.2 599.25,73.1 599.25,93.1 599.75,88.9 599.75,70.9 600.25,86.4 600.25,96.3 600.75,93.6 600.75,77.7 601.25,85.7 601.25,95.8 601.75,96.1 601.75,87.0 602.25,83.0 602.25,92.3 602.75,96.7 602.75,82.0 603.25,90.2 603.25,100.7 603.75,98.8 603.75,88.3 604.25,84.3 604.25,96.2 604.75,106.0 604.75,89.1 605.25,98.7 605.25,106.6 605.75,107.3 605.75,96.6 606.25,89.6 606.25,102.1 606.75,100.3 606.75,90.2 607.25,88.6 607.25,103.7 607.75,101.2 607.75,92.2 608.25,91.8 608.25,101.3 608.75,103.6 608.75,96.8 609.25,93.8 609.25,105.1 609.75,110.0 609.75,92.8 610.25,98.6 610.25,109.0 610.75,107.3 610.75,95.4 611.25,97.4 611.25,111.0 611.75,108.0 611.75,98.7 612.25,89.9 612.25,105.5 612.75,110.6 612.75,94.7 613.25,98.7 613.25,116.1 613.75,112.7 613.75,98.6 614.25,94.8 614.25,111.6 614.75,110.3 614.75,97.9 615.25,96.8 615.25,114.0 615.75,110.7 615.75,102.4 616.25,101.8 616.25,116.5 616.75,115.4 616.75,98.6 617.25,104.9 617.25,117.4 617.75,114.8 617.75,105.2 618.25,98.9 618.25,111.1 618.75,111.2 618.75,90.1 619.25,90.0 619.25,103.5 619.75,105.3 619.75,92.1 620.25,92.4 620.25,108.1 620.75,103.1 620.75,94.7 621.25,97.3 621.25,113.3 621.75,122.9 621.75,112.0 622.25,105.9 622.25,123.8 622.75,112.7 622.75,99.0 623.25,96.3 623.25,110.0 623.75,116.2 623.75,105.3 624.25,106.0 624.25,113.7 624.75,117.9 624.75,101.9 625.25,98.8 625.25,111.4 625.75,109.2 625.75,97.6 626.25,99.5 626.25,113.7 626.75,120.2 626.75,107.7 627.25,109.3 627.25,121.8 627.75,116.6 627.75,103.8 628.25,102.3 628.25,113.6 628.75,111.0 628.75,100.4 629.25,99.7 629.25,116.3 629.75,115.0 629.75,101.8 630.25,99.6 630.25,113.7 630.75,118.5 630.75,102.7 631.25,107.1 631.25,119.0 631.75,123.8 631.75,106.4 632.25,110.9 632.25,122.6 632.75,118.5 632.75,105.0 633.25,97.4 633.25,115.6 633.75,107.8 633.75,95.8 634.25,98.8 634.25,108.5 634.75,108.1 634.75,101.8 635.25,101.6 635.25,116.1 635.75,121.6 635.75,109.4 636.25,117.6 636.25,127.7 636.75,126.5 636.75,112.5 637.25,110.1 637.25,121.8 637.75,118.2 637.75,102.3 638.25,104.1 638.25,112.6 638.75,111.9 638.75,103.3 639.25,102.7 639.25,116.4 639.75,116.7 639.75,104.2 640.25,105.6 640.25,118.9 640.75,117.8 640.75,104.1 641.25,103.7 641.25,119.5 641.75,124.1 641.75,109.9 642.25,105.7 642.25,114.3 642.75,115.8 642.75,106.2 643.25,102.4 643.25,115.0 643.75,108.0 643.75,94.5 644.25,98.0 644.25,110.7 644.75,105.7 644.75,95.9 645.25,97.7 645.25,108.6 645.75,122.7 645.75,110.7 646.25,113.7 646.25,123.8 646.75,131.0 646.75,114.0 647.25,122.3 647.25,133.1 647.75,130.8 647.75,122.7 648.25,117.5 648.25,131.2 648.75,124.5 648.75,117.0 649.25,105.9 649.25,125.8 649.75,120.2 649.75,105.2 650.25,107.4 650.25,125.8 650.75,113.8 650.75,105.1 651.25,103.5 651.25,114.8 651.75,122.9 651.75,109.7 652.25,110.6 652.25,123.3 652.75,119.7 652.75,108.9 653.25,112.9 653.25,124.9 653.75,112.1 653.75,112.1" fill="none" stroke="#ed7d31" stroke-width="1.0" stroke-linejoin="round"/>
<polyline points="383.75,30.8 383.75,18.3 384.25,28.9 384.25,41.3 384.75,39.7 384.75,25.7 385.25,22.0 385.25,34.6 385.75,36.6 385.75,22.5 386.25,23.8 386.25,37.9 386.75,33.4 386.75,17.7 387.25,15.8 387.25,26.1 387.75,29.4 387.75,19.5 388.25,26.6 388.25,38.0 388.75,39.0 388.75,25.0 389.25,29.6 389.25,43.0 389.75,39.9 389.75,25.4 390.25,28.7 390.25,38.7 390.75,42.2 390.75,33.9 391.25,30.2 391.25,48.4 391.75,48.7 391.75,39.1 392.25,31.8 392.25,54.2 392.75,43.2 392.75,28.3 393.25,32.2 393.25,41.5 393.75,36.2 393.75,22.0 394.25,28.5 394.25,42.5 394.75,41.2 394.75,29.2 395.25,29.8 395.25,36.6 395.75,46.2 395.75,32.7 396.25,29.8 396.25,41.7 396.75,55.6 396.75,39.3 397.25,44.7 397.25,57.6 397.75,59.6 397.75,49.6 398.25,48.9 398.25,60.1 398.75,68.7 398.75,51.5 399.25,56.0 399.25,67.4 399.75,65.8 399.75,55.0 400.25,54.4 400.25,62.1 400.75,61.8 400.75,52.7 401.25,50.2 401.25,62.3 401.75,63.9 401.75,48.5 402.25,54.9 402.25,68.6 402.75,72.0 402.75,58.3 403.25,59.8 403.25,70.6 403.75,73.6 403.75,57.3 404.25,62.3 404.25,71.1 404.75,70.5 404.75,62.6 405.25,59.0 405.25,69.2 405.75,72.1 405.75,59.0 406.25,55.2 406.25,68.8 406.75,60.7 406.75,47.6 407.25,47.7 407.25,57.6 407.75,59.4 407.75,43.1 408.25,44.1 408.25,60.3 408.75,59.3 408.75,46.7 409.25,42.5 409.25,54.0 409.75,52.0 409.75,42.0 410.25,42.2 410.25,52.3 410.75,50.8 410.75,40.5 411.25,38.9 411.25,49.5 411.75,41.2 411.75,30.5 412.25,29.2 412.25,43.6 412.75,47.0 412.75,37.7 413.25,30.5 413.25,43.7 413.75,41.1 413.75,31.0 414.25,30.2 414.25,41.0 414.75,45.4 414.75,30.5 415.25,34.8 415.25,44.7 415.75,41.5 415.75,23.2 416.25,22.9 416.25,37.4 416.75,39.5 416.75,29.2 417.25,29.5 417.25,40.2 417.75,39.5 417.75,25.3 418.25,24.9 418.25,39.0 418.75,39.8 418.75,17.5 419.25,21.2 419.25,34.5 419.75,35.9 419.75,20.1 420.25,28.6 420.25,44.0 420.75,45.6 420.75,33.8 421.25,34.6 421.25,47.4 421.75,49.5 421.75,41.3 422.25,35.9 422.25,48.8 422.75,40.3 422.75,27.3 423.25,28.7 423.25,43.6 423.75,42.5 423.75,27.6 424.25,24.9 424.25,38.7 424.75,40.8 424.75,20.1 425.25,16.9 425.25,30.4 425.75,33.6 425.75,16.5 426.25,23.4 426.25,39.3 426.75,39.2 426.75,26.8 427.25,26.2 427.25,35.7 427.75,39.1 427.75,30.6 428.25,33.8 428.25,50.3 428.75,48.6 428.75,33.4 429.25,38.4 429.25,46.9 429.75,50.1 429.75,39.0 430.25,42.5 430.25,57.1 430.75,50.2 430.75,42.2 431.25,43.6 431.25,54.9 431.75,52.8 431.75,36.7 432.25,37.5 432.25,50.9 432.75,51.5 432.75,38.1 433.25,37.4 433.25,47.5 433.75,49.6 433.75,39.1 434.25,42.7 434.25,55.2 434.75,58.7 434.75,46.6 435.25,49.0 435.25,62.6 435.75,53.3 435.75,37.0 436.25,36.1 436.25,47.2 436.75,51.2 436.75,41.0 437.25,43.4 437.25,55.2 437.75,59.6 437.75,45.7 438.25,43.6 438.25,52.6 438.75,50.5 438.75,36.1 439.25,36.6 439.25,47.7 439.75,47.8 439.75,34.4 440.25,35.0 440.25,52.4 440.75,52.9 440.75,36.5 441.25,33.7 441.25,45.7 441.75,57.2 441.75,39.1 442.25,36.2 442.25,48.1 442.75,46.6 442.75,36.7 443.25,40.3 443.25,52.0 443.75,52.2 443.75,37.2 444.25,42.4 444.25,54.2 444.75,49.5 444.75,38.1 445.25,35.7 445.25,47.2 445.75,48.8 445.75,38.3 446.25,29.0 446.25,47.1 446.75,35.6 446.75,23.3 447.25,23.7 447.25,40.7 447.75,45.1 447.75,35.2 448.25,31.4 448.25,40.4 448.75,40.0 448.75,29.9 449.25,23.3 449.25,41.4 449.75,40.7 449.75,27.4 450.25,31.0 450.25,44.2 450.75,50.7 450.75,34.9 451.25,35.1 451.25,50.6 451.75,57.3 451.75,44.1 452.25,41.3 452.25,54.2 452.75,50.6 452.75,31.1 453.25,29.2 453.25,40.2 453.75,44.9 453.75,32.1 454.25,35.4 454.25,53.0 454.75,59.0 454.75,44.6 455.25,38.6 455.25,53.5 455.75,50.8 455.75,39.0 456.25,37.5 456.25,50.0 456.75,60.7 456.75,43.5 457.25,50.1 457.25,60.4 457.75,63.4 457.75,50.7 458.25,51.9 458.25,63.9 458.75,57.9 458.75,44.8 459.25,43.1 459.25,56.0 459.75,46.9 459.75,34.9 460.25,35.0 460.25,46.9 460.75,50.0 460.75,42.9 461.25,43.0 461.25,51.5 461.75,58.7 461.75,45.7 462.25,52.2 462.25,66.8 462.75,64.6 462.75,47.6 463.25,52.2 463.25,71.0 463.75,65.8 463.75,45.3 464.25,40.2 464.25,52.7 464.75,49.1 464.75,37.6 465.25,39.6 465.25,50.5 465.75,57.6 465.75,35.3 466.25,45.0 466.25,56.7 466.75,52.7 466.75,40.9 467.25,37.1 467.25,46.7 467.75,54.7 467.75,45.2 468.25,49.7 468.25,65.4 468.75,64.0 468.75,51.9 469.25,55.0 469.25,66.1 469.75,63.8 469.75,49.7 470.25,50.0 470.25,65.9 470.75,67.5 470.75,50.7 471.25,46.5 471.25,58.2 471.75,56.0 471.75,45.7 472.25,49.9 472.25,60.2 472.75,54.9 472.75,33.9 473.25,35.4 473.25,51.2 473.75,48.5 473.75,37.5 474.25,41.9 474.25,58.2 474.75,53.4 474.75,43.5 475.25,46.5 475.25,64.8 475.75,69.1 475.75,44.3 476.25,46.2 476.25,66.1 476.75,63.7 476.75,49.4 477.25,42.2 477.25,55.1 477.75,58.3 477.75,38.8 478.25,42.7 478.25,57.7 478.75,52.5 478.75,43.1 479.25,35.9 479.25,51.6 479.75,55.6 479.75,46.5 480.25,46.3 480.25,56.6 480.75,63.7 480.75,49.8 481.25,45.3 481.25,60.9 481.75,55.2 481.75,43.1 482.25,50.7 482.25,68.7 482.75,65.0 482.75,43.4 483.25,42.6 483.25,64.5 483.75,72.8 483.75,57.5 484.25,66.4 484.25,74.0 484.75,75.8 484.75,63.3 485.25,51.9 485.25,73.0 485.75,57.6 485.75,45.8 486.25,43.4 486.25,59.4 486.75,65.9 486.75,55.8 487.25,43.0 487.25,66.0 487.75,53.9 487.75,40.5 488.25,48.9 488.25,60.0 488.75,66.4 488.75,53.1 489.25,50.4 489.25,73.1 489.75,70.4 489.75,52.7 490.25,51.8 490.25,66.7 490.75,59.9 490.75,46.1 491.25,50.7 491.25,58.2 491.75,60.5 491.75,47.0 492.25,48.2 492.25,56.0 492.75,59.3 492.75,44.5 493.25,46.9 493.25,63.2 493.75,60.8 493.75,49.8 494.25,48.1 494.25,64.0 494.75,62.2 494.75,50.3 495.25,50.0 495.25,65.1 495.75,70.2 495.75,57.0 496.25,56.5 496.25,71.1 496.75,70.8 496.75,55.0 497.25,54.1 497.25,66.8 497.75,68.2 497.75,56.8 498.25,55.5 498.25,71.3 498.75,59.6 498.75,47.5 499.25,50.0 499.25,60.1 499.75,57.0 499.75,39.1 500.25,43.0 500.25,52.8 500.75,52.8 500.75,42.9 501.25,44.5 501.25,58.2 501.75,54.6 501.75,45.9 502.25,46.2 502.25,56.1 502.75,62.6 502.75,53.9 503.25,52.7 503.25,70.4 503.75,71.5 503.75,63.3 504.25,58.0 504.25,68.7 504.75,62.6 504.75,51.6 505.25,46.2 505.25,56.4 505.75,63.9 505.75,52.5 506.25,40.8 506.25,55.5 506.75,57.6 506.75,46.9 507.25,39.8 507.25,48.1 507.75,55.2 507.75,41.8 508.25,49.2 508.25,61.7 508.75,68.4 508.75,55.2 509.25,53.6 509.25,62.1 509.75,65.4 509.75,52.0 510.25,49.5 510.25,62.3 510.75,65.0 510.75,45.1 511.25,43.0 511.25,56.3 511.75,56.9 511.75,44.9 512.25,42.7 512.25,58.9 512.75,52.1 512.75,38.1 513.25,38.4 513.25,50.1 513.75,48.4 513.75,34.5 514.25,35.4 514.25,47.8 514.75,48.3 514.75,39.2 515.25,40.3 515.25,58.1 515.75,63.5 515.75,52.0 516.25,48.3 516.25,61.4 516.75,57.7 516.75,51.7 517.25,46.5 517.25,55.3 517.75,57.7 517.75,45.2 518.25,47.7 518.25,57.8 518.75,49.4 518.75,40.0 519.25,39.5 519.25,49.7 519.75,48.7 519.75,38.1 520.25,40.4 520.25,52.4 520.75,53.4 520.75,39.5 521.25,47.9 521.25,59.6 521.75,58.6 521.75,43.6 522.25,43.1 522.25,62.0 522.75,59.3 522.75,43.3 523.25,42.9 523.25,53.6 523.75,55.6 523.75,38.9 524.25,41.9 524.25,50.8 524.75,60.5 524.75,42.6 525.25,47.2 525.25,59.6 525.75,58.8 525.75,46.8 526.25,36.4 526.25,49.4 526.75,47.7 526.75,35.8 527.25,38.0 527.25,54.6 527.75,59.4 527.75,43.8 528.25,38.0 528.25,53.9 528.75,56.2 528.75,44.1 529.25,46.5 529.25,58.2 529.75,47.2 529.75,37.4 530.25,43.4 530.25,58.2 530.75,56.5 530.75,47.3 531.25,47.0 531.25,60.2 531.75,64.3 531.75,49.4 532.25,42.7 532.25,58.7 532.75,61.6 532.75,49.1 533.25,49.9 533.25,63.5 533.75,63.7 533.75,49.2 534.25,42.1 534.25,51.5 534.75,48.0 534.75,35.1 535.25,38.3 535.25,46.6 535.75,55.3 535.75,37.6 536.25,48.6 536.25,56.9 536.75,61.2 536.75,49.6 537.25,60.6 537.25,72.7 537.75,70.2 537.75,59.9 538.25,53.7 538.25,66.7 538.75,65.0 538.75,54.8 539.25,55.3 539.25,62.6 539.75,63.5 539.75,50.8 540.25,53.5 540.25,64.3 540.75,64.0 540.75,53.4 541.25,46.4 541.25,65.3 541.75,65.8 541.75,40.7 542.25,48.4 542.25,60.1 542.75,50.2 542.75,41.3 543.25,47.0 543.25,65.2 543.75,63.3 543.75,52.1 544.25,52.0 544.25,61.6 544.75,69.6 544.75,51.5 545.25,60.4 545.25,70.7 545.75,72.7 545.75,57.6 546.25,55.1 546.25,74.1 546.75,67.1 546.75,55.8 547.25,51.0 547.25,64.3 547.75,66.2 547.75,51.5 548.25,63.6 548.25,72.5 548.75,72.0 548.75,59.6 549.25,53.0 549.25,67.2 549.75,67.0 549.75,55.5 550.25,51.9 550.25,64.2 550.75,70.3 550.75,55.1 551.25,63.0 551.25,75.7 551.75,70.8 551.75,54.6 552.25,52.5 552.25,67.0 552.75,69.1 552.75,53.1 553.25,63.7 553.25,70.3 553.75,70.6 553.75,60.3 554.25,57.5 554.25,69.7 554.75,68.6 554.75,52.7 555.25,60.9 555.25,70.6 555.75,75.4 555.75,61.3 556.25,70.4 556.25,84.5 556.75,78.1 556.75,65.7 557.25,51.3 557.25,66.1 557.75,68.5 557.75,57.7 558.25,59.7 558.25,67.6 558.75,82.3 558.75,58.2 559.25,62.4 559.25,80.4 559.75,70.7 559.75,65.5 560.25,59.7 560.25,76.5 560.75,72.3 560.75,61.0 561.25,61.2 561.25,70.6 561.75,75.8 561.75,62.1 562.25,57.4 562.25,70.1 562.75,63.5 562.75,46.8 563.25,51.5 563.25,60.5 563.75,64.3 563.75,53.7 564.25,56.2 564.25,65.2 564.75,67.2 564.75,57.4 565.25,58.9 565.25,76.7 565.75,75.4 565.75,62.9 566.25,62.2 566.25,78.0 566.75,79.2 566.75,71.6 567.25,66.9 567.25,76.0 567.75,73.3 567.75,63.4 568.25,60.5 568.25,69.1 568.75,73.4 568.75,62.5 569.25,60.7 569.25,77.3 569.75,73.7 569.75,59.4 570.25,55.0 570.25,66.2 570.75,74.6 570.75,56.6 571.25,58.3 571.25,73.0 571.75,70.9 571.75,58.3 572.25,52.8 572.25,71.5 572.75,71.6 572.75,50.9 573.25,64.6 573.25,81.0 573.75,84.2 573.75,69.7 574.25,67.9 574.25,79.4 574.75,84.7 574.75,72.2 575.25,59.5 575.25,71.4 575.75,72.8 575.75,55.9 576.25,62.4 576.25,72.3 576.75,74.8 576.75,61.9 577.25,56.2 577.25,68.6 577.75,65.4 577.75,55.8 578.25,60.2 578.25,74.2 578.75,77.8 578.75,63.5 579.25,63.2 579.25,77.4 579.75,69.7 579.75,51.9 580.25,57.0 580.25,70.3 580.75,75.5 580.75,62.7 581.25,62.9 581.25,74.8 581.75,79.2 581.75,68.0 582.25,71.8 582.25,79.8 582.75,80.2 582.75,69.2 583.25,67.8 583.25,79.7 583.75,76.3 583.75,61.6 584.25,55.0 584.25,67.9 584.75,66.8 584.75,50.9 585.25,48.7 585.25,59.4 585.75,59.2 585.75,47.4 586.25,53.1 586.25,62.9 586.75,68.3 586.75,61.5 587.25,60.9 587.25,72.4 587.75,76.8 587.75,66.1 588.25,61.4 588.25,74.1 588.75,68.4 588.75,58.7 589.25,58.8 589.25,69.2 589.75,67.6 589.75,60.2 590.25,56.2 590.25,66.0 590.75,64.7 590.75,50.7 591.25,56.3 591.25,69.0 591.75,65.4 591.75,49.6 592.25,54.4 592.25,67.0 592.75,61.6 592.75,51.2 593.25,53.5 593.25,64.0 593.75,69.7 593.75,55.6 594.25,65.8 594.25,77.5 594.75,75.4 594.75,57.6 595.25,58.6 595.25,77.9 595.75,75.6 595.75,65.6 596.25,60.4 596.25,75.4 596.75,71.9 596.75,53.1 597.25,47.7 597.25,57.4 597.75,55.8 597.75,44.8 598.25,49.9 598.25,65.2 598.75,63.2 598.75,51.6 599.25,47.1 599.25,60.0 599.75,63.9 599.75,48.6 600.25,53.2 600.25,68.6 600.75,76.1 600.75,61.6 601.25,68.1 601.25,77.5 601.75,71.9 601.75,57.8 602.25,49.2 602.25,64.1 602.75,62.6 602.75,48.0 603.25,50.8 603.25,59.4 603.75,61.8 603.75,49.4 604.25,56.8 604.25,69.1 604.75,68.1 604.75,54.5 605.25,51.7 605.25,63.8 605.75,64.4 605.75,52.0 606.25,52.1 606.25,64.8 606.75,62.8 606.75,52.6 607.25,48.1 607.25,59.3 607.75,55.9 607.75,45.4 608.25,35.8 608.25,49.8 608.75,59.2 608.75,42.1 609.25,44.4 609.25,56.5 609.75,60.1 609.75,46.6 610.25,54.4 610.25,61.9 610.75,67.8 610.75,48.9 611.25,53.0 611.25,66.0 611.75,62.5 611.75,49.5 612.25,52.3 612.25,62.7 612.75,67.8 612.75,49.1 613.25,51.0 613.25,61.4 613.75,61.2 613.75,51.6 614.25,58.2 614.25,72.7 614.75,69.5 614.75,56.4 615.25,51.9 615.25,65.5 615.75,61.9 615.75,51.1 616.25,46.0 616.25,57.8 616.75,54.0 616.75,46.4 617.25,47.9 617.25,59.9 617.75,73.1 617.75,55.1 618.25,62.4 618.25,78.8 618.75,81.8 618.75,69.2 619.25,68.7 619.25,85.7 619.75,77.1 619.75,62.2 620.25,54.3 620.25,67.3 620.75,65.6 620.75,54.5 621.25,55.6 621.25,70.0 621.75,82.1 621.75,67.2 622.25,61.4 622.25,77.2 622.75,79.5 622.75,58.1 623.25,62.8 623.25,79.4 623.75,73.6 623.75,66.5 624.25,62.6 624.25,73.6 624.75,70.1 624.75,59.4 625.25,65.1 625.25,75.4 625.75,79.2 625.75,61.5 626.25,67.4 626.25,74.5 626.75,78.7 626.75,68.6 627.25,67.7 627.25,75.9 627.75,79.4 627.75,69.2 628.25,62.7 628.25,77.6 628.75,77.1 628.75,66.7 629.25,67.5 629.25,80.8 629.75,71.5 629.75,62.0 630.25,58.1 630.25,71.8 630.75,62.0 630.75,53.3 631.25,58.7 631.25,76.5 631.75,82.4 631.75,67.5 632.25,63.4 632.25,81.7 632.75,74.0 632.75,64.5 633.25,64.7 633.25,75.6 633.75,80.7 633.75,60.8 634.25,57.7 634.25,69.0 634.75,70.7 634.75,62.8 635.25,51.1 635.25,65.2 635.75,58.9 635.75,50.1 636.25,52.0 636.25,63.4 636.75,65.0 636.75,50.8 637.25,58.6 637.25,73.4 637.75,69.0 637.75,57.8 638.25,58.5 638.25,67.4 638.75,67.7 638.75,51.8 639.25,52.0 639.25,61.9 639.75,65.8 639.75,54.3 640.25,52.8 640.25,65.2 640.75,70.5 640.75,57.5 641.25,59.5 641.25,71.8 641.75,68.1 641.75,55.3 642.25,55.8 642.25,64.7 642.75,71.0 642.75,59.5 643.25,55.4 643.25,68.0 643.75,67.7 643.75,57.1 644.25,54.9 644.25,66.4 644.75,67.8 644.75,58.6 645.25,57.9 645.25,67.6 645.75,67.1 645.75,55.7 646.25,57.7 646.25,72.2 646.75,70.5 646.75,61.0 647.25,55.4 647.25,62.8 647.75,57.3 647.75,48.5 648.25,52.1 648.25,65.4 648.75,70.2 648.75,61.6 649.25,58.9 649.25,68.6 649.75,71.5 649.75,60.3 650.25,61.2 650.25,70.8 650.75,77.9 650.75,63.0 651.25,48.0 651.25,69.2 651.75,57.3 651.75,45.6 652.25,44.4 652.25,55.4 652.75,60.7 652.75,45.9 653.25,56.8 653.25,72.6 653.75,66.2 653.75,66.2" fill="none" stroke="#4472c4" stroke-width="1.0" stroke-linejoin="round"/>
<line x1="482" y1="172.8" x2="494" y2="172.8" stroke="#4472c4" stroke-width="1.2"/>
<text x="495.3" y="174.9" font-size="5.9" fill="#2a2a3a" font-family="'Liberation Sans', sans-serif" text-anchor="start" font-weight="normal" stroke="#2a2a3a" stroke-width="0.12">pro-lig</text>
<line x1="517.4" y1="172.8" x2="529.6" y2="172.8" stroke="#ed7d31" stroke-width="1.2"/>
<text x="530.5" y="174.9" font-size="5.9" fill="#2a2a3a" font-family="'Liberation Sans', sans-serif" text-anchor="start" font-weight="normal" stroke="#2a2a3a" stroke-width="0.12">pro</text>
<text x="3.9" y="199.9" font-size="13.4" fill="#000" font-family="'Liberation Serif', serif" text-anchor="start" font-weight="bold" >C</text>
<line x1="32.6" y1="196" x2="32.6" y2="328.6" stroke="#bfbfbf" stroke-width="1"/>
<text x="24.3" y="331.2" font-size="6.5" fill="#595959" font-family="'Liberation Sans', sans-serif" text-anchor="middle" font-weight="normal" >0</text>
<text x="24.3" y="312.2" font-size="6.5" fill="#595959" font-family="'Liberation Sans', sans-serif" text-anchor="middle" font-weight="normal" >1</text>
<text x="24.3" y="293.2" font-size="6.5" fill="#595959" font-family="'Liberation Sans', sans-serif" text-anchor="middle" font-weight="normal" >2</text>
<text x="24.3" y="274.2" font-size="6.5" fill="#595959" font-family="'Liberation Sans', sans-serif" text-anchor="middle" font-weight="normal" >3</text>
<text x="24.3" y="255.2" font-size="6.5" fill="#595959" font-family="'Liberation Sans', sans-serif" text-anchor="middle" font-weight="normal" >4</text>
<text x="24.3" y="236.2" font-size="6.5" fill="#595959" font-family="'Liberation Sans', sans-serif" text-anchor="middle" font-weight="normal" >5</text>
<text x="24.3" y="217.2" font-size="6.5" fill="#595959" font-family="'Liberation Sans', sans-serif" text-anchor="middle" font-weight="normal" >6</text>
<text x="24.3" y="198.2" font-size="6.5" fill="#595959" font-family="'Liberation Sans', sans-serif" text-anchor="middle" font-weight="normal" >7</text>
<text x="32.6" y="339.9" font-size="6.3" fill="#595959" font-family="'Liberation Sans', sans-serif" text-anchor="middle" font-weight="normal" >0</text>
<text x="61.7" y="339.9" font-size="6.3" fill="#595959" font-family="'Liberation Sans', sans-serif" text-anchor="middle" font-weight="normal" >10000</text>
<text x="90.80000000000001" y="339.9" font-size="6.3" fill="#595959" font-family="'Liberation Sans', sans-serif" text-anchor="middle" font-weight="normal" >20000</text>
<text x="119.9" y="339.9" font-size="6.3" fill="#595959" font-family="'Liberation Sans', sans-serif" text-anchor="middle" font-weight="normal" >30000</text>
<text x="149.0" y="339.9" font-size="6.3" fill="#595959" font-family="'Liberation Sans', sans-serif" text-anchor="middle" font-weight="normal" >40000</text>
<text x="178.1" y="339.9" font-size="6.3" fill="#595959" font-family="'Liberation Sans', sans-serif" text-anchor="middle" font-weight="normal" >50000</text>
<text x="207.20000000000002" y="339.9" font-size="6.3" fill="#595959" font-family="'Liberation Sans', sans-serif" text-anchor="middle" font-weight="normal" >60000</text>
<text x="236.3" y="339.9" font-size="6.3" fill="#595959" font-family="'Liberation Sans', sans-serif" text-anchor="middle" font-weight="normal" >70000</text>
<text x="265.40000000000003" y="339.9" font-size="6.3" fill="#595959" font-family="'Liberation Sans', sans-serif" text-anchor="middle" font-weight="normal" >80000</text>
<text x="294.50000000000006" y="339.9" font-size="6.3" fill="#595959" font-family="'Liberation Sans', sans-serif" text-anchor="middle" font-weight="normal" >90000</text>
<text x="323.6" y="339.9" font-size="6.3" fill="#595959" font-family="'Liberation Sans', sans-serif" text-anchor="middle" font-weight="normal" >100000</text>
<text x="179.2" y="351.8" font-size="7.7" fill="#000" font-family="'Liberation Serif', serif" text-anchor="middle" font-weight="bold" >Time (ps)</text>
<text transform="translate(19.0,262.4) rotate(-90)" font-size="7.3" font-family="'Liberation Serif', serif" text-anchor="middle" fill="#000" font-weight="bold" textLength="37.5" lengthAdjust="spacingAndGlyphs">Hbonds No.</text>
<path d="M32.6,328.6V290.9H33.0V290.9H34.0V234.3H35.0V272.0H36.0V272.0H37.0V272.0H38.0V253.2H39.0V272.0H40.0V272.0H41.0V272.0H42.0V272.0H43.0V253.2H44.0V272.0H45.0V272.0H46.0V272.0H47.0V272.0H48.0V272.0H49.0V272.0H50.0V253.2H51.0V253.2H52.0V253.2H53.0V234.3H54.0V253.2H55.0V253.2H56.0V272.0H57.0V253.2H58.0V272.0H59.0V253.2H60.0V272.0H61.0V272.0H62.0V253.2H63.0V272.0H64.0V272.0H65.0V253.2H66.0V253.2H67.0V253.2H68.0V253.2H69.0V215.4H70.0V234.3H71.0V234.3H72.0V215.4H73.0V234.3H74.0V253.2H75.0V253.2H76.0V253.2H77.0V253.2H78.0V253.2H79.0V253.2H80.0V253.2H81.0V253.2H82.0V253.2H83.0V253.2H84.0V272.0H85.0V272.0H86.0V272.0H87.0V272.0H88.0V272.0H89.0V272.0H90.0V272.0H91.0V272.0H92.0V272.0H93.0V253.2H94.0V253.2H95.0V215.4H96.0V253.2H97.0V253.2H98.0V253.2H99.0V253.2H100.0V253.2H101.0V253.2H102.0V253.2H103.0V234.3H104.0V253.2H105.0V234.3H106.0V272.0H107.0V253.2H108.0V272.0H109.0V272.0H110.0V215.4H111.0V253.2H112.0V272.0H113.0V253.2H114.0V272.0H115.0V253.2H116.0V272.0H117.0V253.2H118.0V253.2H119.0V272.0H120.0V253.2H121.0V272.0H122.0V272.0H123.0V272.0H124.0V272.0H125.0V253.2H126.0V272.0H127.0V272.0H128.0V253.2H129.0V253.2H130.0V253.2H131.0V253.2H132.0V253.2H133.0V253.2H134.0V253.2H135.0V253.2H136.0V234.3H137.0V272.0H138.0V272.0H139.0V272.0H140.0V272.0H141.0V272.0H142.0V253.2H143.0V272.0H144.0V253.2H145.0V272.0H146.0V253.2H147.0V272.0H148.0V272.0H149.0V290.9H150.0V290.9H151.0V290.9H152.0V272.0H153.0V272.0H154.0V272.0H155.0V272.0H156.0V272.0H157.0V272.0H158.0V272.0H159.0V272.0H160.0V253.2H161.0V234.3H162.0V272.0H163.0V272.0H164.0V272.0H165.0V253.2H166.0V272.0H167.0V272.0H168.0V272.0H169.0V272.0H170.0V253.2H171.0V253.2H172.0V272.0H173.0V272.0H174.0V272.0H175.0V272.0H176.0V253.2H177.0V272.0H178.0V272.0H179.0V272.0H180.0V272.0H181.0V272.0H182.0V272.0H183.0V272.0H184.0V272.0H185.0V272.0H186.0V272.0H187.0V272.0H188.0V272.0H189.0V253.2H190.0V272.0H191.0V272.0H192.0V253.2H193.0V253.2H194.0V253.2H195.0V253.2H196.0V253.2H197.0V253.2H198.0V253.2H199.0V272.0H200.0V253.2H201.0V234.3H202.0V234.3H203.0V253.2H204.0V253.2H205.0V253.2H206.0V253.2H207.0V253.2H208.0V253.2H209.0V234.3H210.0V272.0H211.0V253.2H212.0V253.2H213.0V272.0H214.0V272.0H215.0V272.0H216.0V272.0H217.0V272.0H218.0V272.0H219.0V253.2H220.0V253.2H221.0V234.3H222.0V253.2H223.0V234.3H224.0V253.2H225.0V253.2H226.0V253.2H227.0V253.2H228.0V253.2H229.0V253.2H230.0V253.2H231.0V253.2H232.0V234.3H233.0V253.2H234.0V253.2H235.0V253.2H236.0V253.2H237.0V253.2H238.0V253.2H239.0V253.2H240.0V253.2H241.0V253.2H242.0V253.2H243.0V215.4H244.0V253.2H245.0V253.2H246.0V253.2H247.0V253.2H248.0V253.2H249.0V234.3H250.0V253.2H251.0V253.2H252.0V253.2H253.0V253.2H254.0V234.3H255.0V253.2H256.0V253.2H257.0V253.2H258.0V253.2H259.0V253.2H260.0V272.0H261.0V272.0H262.0V272.0H263.0V272.0H264.0V253.2H265.0V253.2H266.0V215.4H267.0V253.2H268.0V215.4H269.0V253.2H270.0V253.2H271.0V253.2H272.0V253.2H273.0V253.2H274.0V253.2H275.0V253.2H276.0V253.2H277.0V253.2H278.0V253.2H279.0V253.2H280.0V253.2H281.0V253.2H282.0V253.2H283.0V253.2H284.0V253.2H285.0V253.2H286.0V253.2H287.0V253.2H288.0V253.2H289.0V253.2H290.0V253.2H291.0V234.3H292.0V253.2H293.0V253.2H294.0V253.2H295.0V253.2H296.0V253.2H297.0V253.2H298.0V253.2H299.0V253.2H300.0V234.3H301.0V215.4H302.0V253.2H303.0V253.2H304.0V253.2H305.0V253.2H306.0V253.2H307.0V253.2H308.0V253.2H309.0V253.2H310.0V253.2H311.0V253.2H312.0V253.2H313.0V234.3H314.0V253.2H315.0V253.2H316.0V253.2H317.0V253.2H318.0V234.3H319.0V253.2H320.0V253.2H321.0V253.2H322.0V253.2H323.0V253.2H324.0V253.2H325.0V253.2H326.0V328.6Z" fill="#4472c4" stroke="none"/>
<path d="M101.3,253.2H101.85V272.0H101.3ZM102.0,253.2H102.55V272.0H102.0ZM102.7,253.2H103.25V272.0H102.7ZM152.7,272.0H153.25V290.9H152.7ZM153.4,272.0H153.95V290.9H153.4ZM154.8,272.0H155.35V290.9H154.8ZM156.9,272.0H157.45V290.9H156.9ZM159.0,272.0H159.55V290.9H159.0ZM160.4,272.0H160.95V290.9H160.4ZM165.3,272.0H165.85V290.9H165.3ZM166.0,272.0H166.55V290.9H166.0ZM170.9,272.0H171.45V290.9H170.9ZM173.7,272.0H174.25V290.9H173.7ZM174.4,272.0H174.95V290.9H174.4ZM177.9,272.0H178.45V290.9H177.9ZM181.4,272.0H181.95V290.9H181.4ZM182.1,272.0H182.65V290.9H182.1ZM182.8,272.0H183.35V290.9H182.8ZM184.2,272.0H184.75V290.9H184.2ZM184.9,272.0H185.45V290.9H184.9ZM187.0,272.0H187.55V290.9H187.0ZM223.2,253.2H223.75V272.0H223.2ZM224.6,253.2H225.15V272.0H224.6ZM226.7,253.2H227.25V272.0H226.7ZM228.1,253.2H228.65V272.0H228.1ZM229.5,253.2H230.05V272.0H229.5ZM230.2,253.2H230.75V272.0H230.2ZM233.7,253.2H234.25V272.0H233.7ZM237.9,253.2H238.45V272.0H237.9ZM241.4,253.2H241.95V272.0H241.4ZM242.1,253.2H242.65V272.0H242.1ZM253.3,253.2H253.85V272.0H253.3ZM258.9,253.2H259.45V272.0H258.9ZM272.1,253.2H272.65V272.0H272.1ZM279.8,253.2H280.35V272.0H279.8ZM284.7,253.2H285.25V272.0H284.7ZM286.1,253.2H286.65V272.0H286.1ZM286.8,253.2H287.35V272.0H286.8ZM290.3,253.2H290.85V272.0H290.3ZM292.4,253.2H292.95V272.0H292.4ZM298.0,253.2H298.55V272.0H298.0ZM301.5,253.2H302.05V272.0H301.5ZM305.7,253.2H306.25V272.0H305.7ZM307.1,253.2H307.65V272.0H307.1ZM308.5,253.2H309.05V272.0H308.5ZM311.3,253.2H311.85V272.0H311.3ZM316.9,253.2H317.45V272.0H316.9ZM319.7,253.2H320.25V272.0H319.7ZM321.8,253.2H322.35V272.0H321.8ZM322.5,253.2H323.05V272.0H322.5ZM323.2,253.2H323.75V272.0H323.2ZM135.8,253.2H136.35V272.0H135.8ZM46.8,272.0H47.35V290.9H46.8ZM80.2,253.2H80.75V272.0H80.2ZM80.2,272.0H80.75V290.9H80.2ZM82.2,253.2H82.75V272.0H82.2ZM82.2,272.0H82.75V290.9H82.2ZM125.3,272.0H125.85V290.9H125.3ZM150.4,290.9H150.95V302.2H150.4ZM150.9,290.9H151.45V309.7H150.9Z" fill="#fff" fill-opacity="0.9"/>
<text x="353.9" y="199.9" font-size="13.4" fill="#000" font-family="'Liberation Serif', serif" text-anchor="start" font-weight="bold" >D</text>
<line x1="382.6" y1="192" x2="382.6" y2="319.2" stroke="#bfbfbf" stroke-width="1"/>
<line x1="382.6" y1="319.2" x2="650.5" y2="319.2" stroke="#bfbfbf" stroke-width="1"/>
<text x="376.9" y="320.4" font-size="5.5" fill="#595959" font-family="'Liberation Sans', sans-serif" text-anchor="end" font-weight="normal" >0</text>
<text x="376.9" y="304.58" font-size="5.5" fill="#595959" font-family="'Liberation Sans', sans-serif" text-anchor="end" font-weight="normal" >0.1</text>
<text x="376.9" y="288.76" font-size="5.5" fill="#595959" font-family="'Liberation Sans', sans-serif" text-anchor="end" font-weight="normal" >0.2</text>
<text x="376.9" y="272.94" font-size="5.5" fill="#595959" font-family="'Liberation Sans', sans-serif" text-anchor="end" font-weight="normal" >0.3</text>
<text x="376.9" y="257.12" font-size="5.5" fill="#595959" font-family="'Liberation Sans', sans-serif" text-anchor="end" font-weight="normal" >0.4</text>
<text x="376.9" y="241.29999999999998" font-size="5.5" fill="#595959" font-family="'Liberation Sans', sans-serif" text-anchor="end" font-weight="normal" >0.5</text>
<text x="376.9" y="225.47999999999996" font-size="5.5" fill="#595959" font-family="'Liberation Sans', sans-serif" text-anchor="end" font-weight="normal" >0.6</text>
<text x="376.9" y="209.65999999999997" font-size="5.5" fill="#595959" font-family="'Liberation Sans', sans-serif" text-anchor="end" font-weight="normal" >0.7</text>
<text x="376.9" y="193.83999999999997" font-size="5.5" fill="#595959" font-family="'Liberation Sans', sans-serif" text-anchor="end" font-weight="normal" >0.8</text>
<text x="382.6" y="328.4" font-size="5.6" fill="#595959" font-family="'Liberation Sans', sans-serif" text-anchor="middle" font-weight="normal" >0</text>
<text x="416.1" y="328.4" font-size="5.6" fill="#595959" font-family="'Liberation Sans', sans-serif" text-anchor="middle" font-weight="normal" >50</text>
<text x="449.6" y="328.4" font-size="5.6" fill="#595959" font-family="'Liberation Sans', sans-serif" text-anchor="middle" font-weight="normal" >100</text>
<text x="483.1" y="328.4" font-size="5.6" fill="#595959" font-family="'Liberation Sans', sans-serif" text-anchor="middle" font-weight="normal" >150</text>
<text x="516.6" y="328.4" font-size="5.6" fill="#595959" font-family="'Liberation Sans', sans-serif" text-anchor="middle" font-weight="normal" >200</text>
<text x="550.1" y="328.4" font-size="5.6" fill="#595959" font-family="'Liberation Sans', sans-serif" text-anchor="middle" font-weight="normal" >250</text>
<text x="583.6" y="328.4" font-size="5.6" fill="#595959" font-family="'Liberation Sans', sans-serif" text-anchor="middle" font-weight="normal" >300</text>
<text x="617.1" y="328.4" font-size="5.6" fill="#595959" font-family="'Liberation Sans', sans-serif" text-anchor="middle" font-weight="normal" >350</text>
<text x="650.6" y="328.4" font-size="5.6" fill="#595959" font-family="'Liberation Sans', sans-serif" text-anchor="middle" font-weight="normal" >400</text>
<text x="516.8" y="339.4" font-size="5.9" fill="#555" font-family="'Liberation Sans', sans-serif" text-anchor="middle" font-weight="normal" >Residue No.</text>
<text transform="translate(366.6,255.6) rotate(-90)" font-size="5.5" font-family="'Liberation Sans', sans-serif" text-anchor="middle" fill="#595959" textLength="36.4" lengthAdjust="spacingAndGlyphs">Ca RMSF (nm)</text>
<polyline points="386.6,206.7 387.0,222.1 387.3,239.8 387.6,247.7 388.0,260.7 388.3,270.9 388.6,281.4 389.0,283.6 389.3,287.5 389.6,291.7 390.0,293.2 390.3,292.4 390.6,293.4 391.0,292.4 391.3,291.0 391.6,291.3 392.0,287.8 392.3,282.6 392.7,280.0 393.0,276.9 393.3,271.8 393.7,269.0 394.0,265.7 394.3,269.8 394.7,276.4 395.0,281.2 395.3,288.0 395.7,290.4 396.0,291.8 396.3,293.2 396.7,295.4 397.0,295.6 397.3,295.8 397.7,295.2 398.0,293.7 398.3,291.0 398.7,290.5 399.0,289.0 399.4,289.4 399.7,288.1 400.0,286.7 400.4,286.1 400.7,287.2 401.0,285.8 401.4,285.0 401.7,286.7 402.0,289.4 402.4,289.7 402.7,290.8 403.0,289.4 403.4,287.9 403.7,286.9 404.0,286.1 404.4,283.4 404.7,277.4 405.0,271.2 405.4,265.3 405.7,258.7 406.1,253.2 406.4,250.3 406.7,254.6 407.1,261.4 407.4,267.3 407.7,273.8 408.1,279.2 408.4,284.8 408.7,287.3 409.1,290.3 409.4,292.8 409.7,294.2 410.1,298.2 410.4,298.3 410.7,295.6 411.1,294.3 411.4,293.9 411.7,290.8 412.1,288.5 412.4,286.2 412.8,283.3 413.1,278.8 413.4,277.2 413.8,274.6 414.1,272.1 414.4,271.2 414.8,269.4 415.1,268.0 415.4,268.7 415.8,272.0 416.1,274.8 416.4,277.7 416.8,281.3 417.1,284.9 417.4,288.0 417.8,290.3 418.1,293.3 418.4,295.5 418.8,297.3 419.1,299.9 419.5,303.3 419.8,301.7 420.1,300.0 420.5,300.1 420.8,298.5 421.1,297.1 421.5,296.6 421.8,292.9 422.1,292.3 422.5,290.2 422.8,288.8 423.1,285.3 423.5,285.5 423.8,282.6 424.1,281.1 424.5,278.3 424.8,281.5 425.1,282.5 425.5,285.1 425.8,286.4 426.2,287.7 426.5,289.2 426.8,289.9 427.2,292.6 427.5,292.7 427.8,296.0 428.2,295.8 428.5,298.2 428.8,299.5 429.2,300.9 429.5,302.7 429.8,302.6 430.2,304.1 430.5,303.5 430.8,303.2 431.2,304.7 431.5,304.4 431.8,303.8 432.2,303.4 432.5,302.7 432.9,304.7 433.2,302.8 433.5,305.2 433.9,304.3 434.2,305.1 434.5,304.9 434.9,304.3 435.2,306.3 435.5,305.3 435.9,306.1 436.2,306.8 436.5,306.4 436.9,307.6 437.2,306.2 437.5,307.7 437.9,307.8 438.2,306.7 438.5,306.8 438.9,308.4 439.2,308.3 439.6,309.5 439.9,308.0 440.2,307.8 440.6,306.1 440.9,306.5 441.2,306.1 441.6,304.3 441.9,304.3 442.2,304.7 442.6,303.7 442.9,301.0 443.2,300.7 443.6,299.5 443.9,298.4 444.2,297.9 444.6,296.0 444.9,294.7 445.2,293.0 445.6,292.0 445.9,288.0 446.2,283.6 446.6,280.3 446.9,276.6 447.3,270.9 447.6,267.8 447.9,263.5 448.3,261.3 448.6,260.3 448.9,256.0 449.3,257.6 449.6,264.4 449.9,271.4 450.3,278.3 450.6,287.0 450.9,288.5 451.3,291.5 451.6,293.6 451.9,295.4 452.3,296.6 452.6,298.9 453.0,300.5 453.3,302.4 453.6,305.8 454.0,303.2 454.3,304.6 454.6,304.5 455.0,304.2 455.3,302.6 455.6,301.7 456.0,301.8 456.3,300.4 456.6,300.3 457.0,300.0 457.3,298.5 457.6,298.4 458.0,298.6 458.3,297.2 458.6,297.0 459.0,296.2 459.3,294.9 459.7,296.1 460.0,293.4 460.3,291.0 460.7,287.5 461.0,284.1 461.3,281.6 461.7,282.0 462.0,287.1 462.3,289.7 462.7,292.7 463.0,295.9 463.3,294.6 463.7,292.6 464.0,293.3 464.3,291.9 464.7,290.9 465.0,291.0 465.3,292.3 465.7,292.9 466.0,293.0 466.4,296.3 466.7,297.4 467.0,297.8 467.4,298.8 467.7,299.6 468.0,300.4 468.4,302.6 468.7,303.2 469.0,303.5 469.4,303.8 469.7,306.0 470.0,304.8 470.4,305.8 470.7,306.6 471.0,307.2 471.4,306.0 471.7,307.8 472.0,309.1 472.4,309.0 472.7,308.7 473.1,308.4 473.4,308.8 473.7,307.7 474.1,307.4 474.4,309.5 474.7,307.6 475.1,306.5 475.4,307.3 475.7,307.1 476.1,306.7 476.4,307.0 476.7,306.3 477.1,306.4 477.4,304.5 477.7,304.0 478.1,302.8 478.4,305.0 478.7,304.6 479.1,303.2 479.4,301.9 479.8,301.7 480.1,301.8 480.4,300.2 480.8,299.5 481.1,298.8 481.4,297.6 481.8,299.1 482.1,300.7 482.4,300.6 482.8,300.7 483.1,301.9 483.4,302.1 483.8,301.9 484.1,302.2 484.4,301.9 484.8,302.6 485.1,302.3 485.4,301.9 485.8,301.1 486.1,302.2 486.5,301.8 486.8,303.0 487.1,303.3 487.5,303.0 487.8,302.9 488.1,302.9 488.5,302.7 488.8,302.0 489.1,302.7 489.5,303.4 489.8,302.2 490.1,302.6 490.5,301.0 490.8,301.8 491.1,301.1 491.5,302.5 491.8,302.7 492.1,304.7 492.5,304.8 492.8,305.2 493.2,306.2 493.5,306.8 493.8,307.3 494.2,307.7 494.5,307.9 494.8,308.3 495.2,306.4 495.5,306.7 495.8,305.7 496.2,305.1 496.5,305.2 496.8,302.3 497.2,303.1 497.5,301.6 497.8,299.8 498.2,298.8 498.5,297.2 498.8,295.2 499.2,293.6 499.5,291.9 499.9,293.3 500.2,291.4 500.5,291.2 500.9,291.2 501.2,289.5 501.5,290.1 501.9,289.6 502.2,289.9 502.5,287.7 502.9,288.5 503.2,284.5 503.5,284.7 503.9,283.0 504.2,282.3 504.5,280.1 504.9,279.5 505.2,279.1 505.5,280.8 505.9,280.3 506.2,282.6 506.6,284.2 506.9,284.6 507.2,285.8 507.6,286.6 507.9,287.3 508.2,290.0 508.6,289.9 508.9,290.8 509.2,292.0 509.6,292.6 509.9,293.6 510.2,295.8 510.6,296.0 510.9,297.2 511.2,298.1 511.6,298.3 511.9,299.6 512.2,298.5 512.6,298.8 512.9,297.8 513.2,297.6 513.6,298.4 513.9,298.0 514.3,297.7 514.6,297.0 514.9,296.3 515.3,298.5 515.6,297.2 515.9,297.8 516.3,297.1 516.6,297.1 516.9,296.3 517.3,297.7 517.6,297.5 517.9,298.2 518.3,298.7 518.6,300.5 518.9,301.2 519.3,301.5 519.6,302.2 520.0,302.7 520.3,303.3 520.6,302.5 521.0,304.1 521.3,304.3 521.6,304.6 522.0,305.4 522.3,304.6 522.6,303.7 523.0,305.6 523.3,305.2 523.6,304.6 524.0,305.2 524.3,305.5 524.6,304.2 525.0,303.7 525.3,303.5 525.6,303.0 526.0,304.2 526.3,302.3 526.7,304.1 527.0,303.3 527.3,303.3 527.7,302.5 528.0,299.4 528.3,299.1 528.7,298.0 529.0,294.4 529.3,292.5 529.7,289.0 530.0,288.2 530.3,284.8 530.7,282.0 531.0,280.5 531.3,276.6 531.7,280.4 532.0,282.3 532.3,285.3 532.7,286.9 533.0,289.8 533.4,292.7 533.7,292.2 534.0,289.7 534.4,288.1 534.7,285.1 535.0,284.5 535.4,285.6 535.7,285.5 536.0,288.5 536.4,291.6 536.7,291.1 537.0,295.6 537.4,295.0 537.7,296.0 538.0,296.9 538.4,297.0 538.7,297.4 539.0,298.1 539.4,299.9 539.7,298.6 540.1,297.5 540.4,295.7 540.7,294.4 541.1,293.4 541.4,291.5 541.7,291.0 542.1,291.5 542.4,290.8 542.7,289.2 543.1,289.4 543.4,289.5 543.7,287.6 544.1,288.3 544.4,289.2 544.7,288.5 545.1,288.7 545.4,289.0 545.7,288.8 546.1,286.7 546.4,287.8 546.8,288.0 547.1,287.4 547.4,288.1 547.8,286.6 548.1,286.6 548.4,286.2 548.8,288.5 549.1,286.1 549.4,287.7 549.8,287.0 550.1,286.4 550.4,286.6 550.8,286.4 551.1,286.4 551.4,286.4 551.8,285.4 552.1,284.2 552.4,284.7 552.8,285.4 553.1,283.3 553.5,282.7 553.8,283.7 554.1,282.5 554.5,282.5 554.8,281.1 555.1,281.8 555.5,282.4 555.8,279.7 556.1,278.4 556.5,275.8 556.8,274.7 557.1,272.4 557.5,271.5 557.8,268.2 558.1,267.4 558.5,268.9 558.8,270.4 559.1,270.8 559.5,271.9 559.8,272.9 560.2,275.2 560.5,277.5 560.8,277.8 561.2,280.7 561.5,282.0 561.8,285.0 562.2,285.1 562.5,287.0 562.8,290.0 563.2,291.1 563.5,292.6 563.8,293.5 564.2,294.7 564.5,294.7 564.8,294.1 565.2,295.6 565.5,296.2 565.8,297.1 566.2,297.7 566.5,294.0 566.9,292.4 567.2,290.5 567.5,287.6 567.9,286.4 568.2,283.7 568.5,280.9 568.9,279.9 569.2,284.4 569.5,286.9 569.9,289.5 570.2,293.4 570.5,295.2 570.9,299.3 571.2,296.9 571.5,295.4 571.9,291.7 572.2,292.4 572.5,289.1 572.9,287.6 573.2,287.9 573.6,289.0 573.9,292.5 574.2,292.7 574.6,293.3 574.9,294.8 575.2,296.4 575.6,296.3 575.9,297.5 576.2,298.7 576.6,299.3 576.9,300.1 577.2,301.5 577.6,300.7 577.9,302.1 578.2,302.6 578.6,304.1 578.9,304.5 579.2,305.5 579.6,305.6 579.9,305.2 580.2,306.0 580.6,304.7 580.9,304.7 581.3,306.4 581.6,305.8 581.9,306.0 582.3,305.6 582.6,305.9 582.9,306.9 583.3,306.6 583.6,305.2 583.9,306.1 584.3,305.3 584.6,304.1 584.9,299.7 585.3,299.4 585.6,296.9 585.9,294.6 586.3,293.1 586.6,289.1 587.0,287.1 587.3,281.9 587.6,279.5 588.0,274.2 588.3,272.0 588.6,276.4 589.0,280.6 589.3,287.8 589.6,292.1 590.0,298.3 590.3,303.6 590.6,303.9 591.0,304.0 591.3,303.2 591.6,303.8 592.0,304.7 592.3,304.2 592.6,304.5 593.0,305.0 593.3,305.1 593.7,304.7 594.0,303.0 594.3,301.6 594.7,300.0 595.0,298.9 595.3,297.1 595.7,295.5 596.0,293.2 596.3,292.9 596.7,291.5 597.0,290.2 597.3,288.6 597.7,286.0 598.0,285.7 598.3,283.1 598.7,282.1 599.0,279.0 599.3,281.1 599.7,282.5 600.0,284.2 600.4,285.7 600.7,287.8 601.0,288.4 601.4,291.3 601.7,291.7 602.0,293.2 602.4,293.3 602.7,293.6 603.0,296.4 603.4,298.4 603.7,298.6 604.0,297.3 604.4,295.6 604.7,294.9 605.0,293.8 605.4,292.7 605.7,292.9 606.0,291.4 606.4,290.0 606.7,288.9 607.1,287.7 607.4,288.4 607.7,287.3 608.1,282.6 608.4,277.7 608.7,275.1 609.1,269.7 609.4,264.9 609.7,260.6 610.1,267.5 610.4,273.3 610.7,279.9 611.1,285.3 611.4,292.6 611.7,298.6 612.1,296.9 612.4,294.7 612.7,292.1 613.1,290.6 613.4,287.6 613.8,285.5 614.1,282.7 614.4,281.1 614.8,280.9 615.1,280.1 615.4,280.4 615.8,279.3 616.1,280.0 616.4,278.8 616.8,278.5 617.1,277.8 617.4,279.1 617.8,281.1 618.1,281.5 618.4,282.0 618.8,284.2 619.1,286.1 619.4,287.2 619.8,289.5 620.1,290.4 620.5,292.4" fill="none" stroke="#4472c4" stroke-width="1.25" stroke-linejoin="round" />
<polyline points="386.6,239.2 387.0,246.9 387.3,251.6 387.6,259.1 388.0,265.6 388.3,271.9 388.6,278.3 389.0,282.1 389.3,288.2 389.6,290.7 390.0,294.3 390.3,293.2 390.6,291.9 391.0,291.5 391.3,289.1 391.6,289.4 392.0,287.8 392.3,285.0 392.7,283.2 393.0,280.5 393.3,277.0 393.7,275.2 394.0,271.9 394.3,275.1 394.7,278.3 395.0,282.3 395.3,284.6 395.7,286.3 396.0,289.5 396.3,292.0 396.7,294.6 397.0,298.6 397.3,298.3 397.7,296.9 398.0,296.4 398.3,295.7 398.7,295.3 399.0,296.4 399.4,293.9 399.7,293.4 400.0,294.1 400.4,293.5 400.7,291.9 401.0,292.5 401.4,292.6 401.7,292.9 402.0,293.5 402.4,293.0 402.7,292.5 403.0,292.7 403.4,293.6 403.7,293.1 404.0,292.4 404.4,291.9 404.7,291.4 405.0,291.3 405.4,289.1 405.7,289.2 406.1,288.8 406.4,288.4 406.7,286.2 407.1,285.4 407.4,285.8 407.7,287.3 408.1,288.5 408.4,288.6 408.7,289.8 409.1,292.5 409.4,295.1 409.7,295.8 410.1,296.7 410.4,298.0 410.7,295.8 411.1,293.1 411.4,291.5 411.7,289.8 412.1,288.4 412.4,283.3 412.8,279.2 413.1,275.1 413.4,271.6 413.8,273.7 414.1,271.7 414.4,274.9 414.8,275.4 415.1,276.9 415.4,279.9 415.8,282.4 416.1,284.5 416.4,286.5 416.8,289.6 417.1,291.7 417.4,295.5 417.8,295.9 418.1,299.6 418.4,302.6 418.8,304.9 419.1,303.2 419.5,304.9 419.8,302.9 420.1,303.0 420.5,302.1 420.8,300.4 421.1,300.4 421.5,300.8 421.8,298.9 422.1,298.0 422.5,297.2 422.8,294.4 423.1,295.2 423.5,294.5 423.8,292.7 424.1,292.5 424.5,290.8 424.8,290.3 425.1,289.2 425.5,287.4 425.8,286.7 426.2,289.4 426.5,291.6 426.8,291.7 427.2,293.6 427.5,294.1 427.8,296.2 428.2,296.9 428.5,296.9 428.8,297.9 429.2,298.1 429.5,298.6 429.8,298.3 430.2,299.4 430.5,298.2 430.8,298.4 431.2,299.7 431.5,300.3 431.8,300.0 432.2,301.0 432.5,299.9 432.9,299.4 433.2,299.4 433.5,298.9 433.9,297.5 434.2,298.0 434.5,296.2 434.9,296.8 435.2,297.2 435.5,296.1 435.9,294.3 436.2,295.4 436.5,296.4 436.9,297.2 437.2,299.9 437.5,300.6 437.9,302.5 438.2,303.7 438.5,304.2 438.9,305.4 439.2,305.6 439.6,305.7 439.9,306.6 440.2,308.4 440.6,308.0 440.9,306.5 441.2,306.4 441.6,306.2 441.9,305.5 442.2,304.9 442.6,304.7 442.9,303.2 443.2,301.4 443.6,298.8 443.9,296.6 444.2,293.4 444.6,292.1 444.9,288.6 445.2,286.8 445.6,284.8 445.9,282.8 446.2,278.8 446.6,277.5 446.9,275.8 447.3,273.4 447.6,271.6 447.9,269.8 448.3,269.2 448.6,266.3 448.9,264.6 449.3,265.1 449.6,270.9 449.9,274.0 450.3,278.3 450.6,283.1 450.9,287.2 451.3,291.2 451.6,293.6 451.9,297.1 452.3,299.4 452.6,302.5 453.0,304.2 453.3,304.7 453.6,304.7 454.0,305.2 454.3,304.8 454.6,305.0 455.0,305.8 455.3,305.6 455.6,304.4 456.0,302.0 456.3,301.1 456.6,300.3 457.0,298.3 457.3,299.7 457.6,300.3 458.0,298.6 458.3,301.7 458.6,301.4 459.0,303.0 459.3,302.5 459.7,303.3 460.0,302.2 460.3,300.9 460.7,300.3 461.0,298.7 461.3,295.9 461.7,295.9 462.0,294.0 462.3,293.1 462.7,290.9 463.0,290.4 463.3,289.1 463.7,286.4 464.0,290.8 464.3,291.3 464.7,292.4 465.0,294.1 465.3,295.1 465.7,298.9 466.0,299.9 466.4,301.9 466.7,302.5 467.0,302.1 467.4,302.4 467.7,303.3 468.0,304.5 468.4,304.2 468.7,305.1 469.0,305.2 469.4,305.7 469.7,305.8 470.0,307.0 470.4,307.8 470.7,307.0 471.0,306.9 471.4,307.0 471.7,308.0 472.0,309.0 472.4,309.5 472.7,308.7 473.1,308.3 473.4,308.5 473.7,308.3 474.1,307.0 474.4,308.0 474.7,306.2 475.1,305.2 475.4,305.5 475.7,306.0 476.1,304.1 476.4,304.5 476.7,303.8 477.1,302.8 477.4,302.6 477.7,302.0 478.1,303.2 478.4,300.7 478.7,299.4 479.1,299.8 479.4,299.5 479.8,299.4 480.1,297.8 480.4,298.8 480.8,299.5 481.1,300.2 481.4,301.0 481.8,302.1 482.1,302.6 482.4,303.2 482.8,305.0 483.1,304.0 483.4,305.2 483.8,304.1 484.1,303.9 484.4,304.1 484.8,303.4 485.1,302.3 485.4,301.8 485.8,302.3 486.1,301.9 486.5,302.6 486.8,300.7 487.1,301.2 487.5,298.6 487.8,298.7 488.1,297.9 488.5,296.1 488.8,295.7 489.1,295.8 489.5,294.2 489.8,292.8 490.1,292.4 490.5,291.7 490.8,290.3 491.1,291.5 491.5,291.6 491.8,293.9 492.1,296.4 492.5,297.8 492.8,300.4 493.2,300.8 493.5,302.7 493.8,305.6 494.2,305.9 494.5,305.7 494.8,304.0 495.2,303.4 495.5,301.1 495.8,300.3 496.2,299.2 496.5,297.9 496.8,298.1 497.2,295.4 497.5,293.0 497.8,292.4 498.2,289.7 498.5,289.4 498.8,288.0 499.2,286.6 499.5,286.1 499.9,285.2 500.2,284.7 500.5,283.9 500.9,283.8 501.2,282.5 501.5,281.8 501.9,281.0 502.2,277.5 502.5,273.1 502.9,269.3 503.2,265.0 503.5,260.8 503.9,259.5 504.2,260.0 504.5,263.3 504.9,263.7 505.2,265.8 505.5,267.3 505.9,269.5 506.2,270.7 506.6,272.9 506.9,274.3 507.2,277.4 507.6,280.3 507.9,281.4 508.2,283.5 508.6,285.6 508.9,288.0 509.2,289.6 509.6,293.5 509.9,294.4 510.2,296.4 510.6,301.6 510.9,302.6 511.2,303.8 511.6,302.2 511.9,300.4 512.2,298.1 512.6,294.2 512.9,291.2 513.2,289.9 513.6,285.5 513.9,285.0 514.3,280.3 514.6,278.4 514.9,271.8 515.3,267.8 515.6,261.7 515.9,257.7 516.3,252.1 516.6,253.1 516.9,258.8 517.3,263.4 517.6,270.9 517.9,276.4 518.3,280.4 518.6,285.5 518.9,288.7 519.3,292.0 519.6,293.6 520.0,295.9 520.3,298.5 520.6,301.4 521.0,302.9 521.3,305.6 521.6,308.4 522.0,308.0 522.3,307.8 522.6,306.2 523.0,306.9 523.3,305.7 523.6,304.5 524.0,305.6 524.3,304.9 524.6,305.7 525.0,302.5 525.3,303.8 525.6,302.6 526.0,301.3 526.3,300.4 526.7,300.1 527.0,297.2 527.3,297.1 527.7,296.4 528.0,294.7 528.3,293.9 528.7,293.6 529.0,291.9 529.3,291.7 529.7,289.0 530.0,289.3 530.3,289.2 530.7,288.2 531.0,288.9 531.3,288.8 531.7,287.4 532.0,290.6 532.3,289.9 532.7,290.5 533.0,289.8 533.4,292.7 533.7,291.4 534.0,292.9 534.4,294.7 534.7,294.1 535.0,295.4 535.4,295.6 535.7,296.0 536.0,295.9 536.4,297.8 536.7,299.6 537.0,299.2 537.4,300.9 537.7,302.0 538.0,302.3 538.4,302.6 538.7,302.6 539.0,303.0 539.4,300.5 539.7,300.0 540.1,298.1 540.4,298.7 540.7,296.7 541.1,295.1 541.4,294.4 541.7,292.8 542.1,293.2 542.4,291.0 542.7,290.1 543.1,290.2 543.4,289.3 543.7,288.4 544.1,288.1 544.4,287.0 544.7,286.6 545.1,281.9 545.4,276.8 545.7,273.2 546.1,269.4 546.4,264.8 546.8,261.4 547.1,260.6 547.4,261.0 547.8,260.0 548.1,258.6 548.4,259.6 548.8,262.5 549.1,263.8 549.4,265.2 549.8,266.9 550.1,269.3 550.4,268.8 550.8,269.6 551.1,271.0 551.4,271.4 551.8,272.6 552.1,272.0 552.4,273.4 552.8,273.3 553.1,275.1 553.5,274.6 553.8,276.2 554.1,275.7 554.5,277.7 554.8,277.9 555.1,275.3 555.5,274.0 555.8,273.3 556.1,271.1 556.5,267.8 556.8,267.8 557.1,262.8 557.5,263.4 557.8,259.8 558.1,263.5 558.5,262.1 558.8,264.0 559.1,266.5 559.5,266.6 559.8,269.7 560.2,270.4 560.5,271.2 560.8,274.5 561.2,275.3 561.5,278.2 561.8,280.4 562.2,282.9 562.5,286.1 562.8,289.6 563.2,290.8 563.5,293.4 563.8,292.8 564.2,295.1 564.5,293.1 564.8,293.3 565.2,292.7 565.5,292.7 565.8,292.8 566.2,292.9 566.5,292.7 566.9,292.8 567.2,293.4 567.5,292.2 567.9,291.5 568.2,289.6 568.5,288.7 568.9,289.2 569.2,287.5 569.5,287.0 569.9,285.1 570.2,284.5 570.5,283.3 570.9,281.5 571.2,282.4 571.5,279.3 571.9,279.1 572.2,279.9 572.5,280.2 572.9,281.1 573.2,279.6 573.6,278.5 573.9,279.1 574.2,282.2 574.6,284.9 574.9,287.8 575.2,290.4 575.6,292.1 575.9,294.7 576.2,294.6 576.6,298.1 576.9,297.7 577.2,300.5 577.6,300.4 577.9,302.0 578.2,303.7 578.6,305.5 578.9,307.2 579.2,307.9 579.6,305.8 579.9,307.5 580.2,306.3 580.6,307.4 580.9,306.3 581.3,307.5 581.6,305.9 581.9,307.2 582.3,306.2 582.6,307.2 582.9,306.9 583.3,306.6 583.6,305.7 583.9,306.6 584.3,305.1 584.6,304.1 584.9,301.2 585.3,301.1 585.6,300.8 585.9,298.3 586.3,297.5 586.6,296.0 587.0,294.4 587.3,292.8 587.6,292.2 588.0,290.5 588.3,290.5 588.6,288.6 589.0,287.4 589.3,291.1 589.6,293.8 590.0,295.7 590.3,300.3 590.6,302.6 591.0,304.9 591.3,305.0 591.6,304.6 592.0,304.8 592.3,304.8 592.6,305.0 593.0,307.2 593.3,304.9 593.7,305.5 594.0,305.2 594.3,305.9 594.7,304.7 595.0,305.5 595.3,305.0 595.7,306.2 596.0,305.1 596.3,306.0 596.7,306.5 597.0,306.4 597.3,305.8 597.7,307.1 598.0,304.7 598.3,304.5 598.7,302.4 599.0,299.8 599.3,298.2 599.7,297.5 600.0,295.8 600.4,294.2 600.7,291.0 601.0,289.5 601.4,288.2 601.7,286.8 602.0,289.0 602.4,290.6 602.7,293.1 603.0,292.2 603.4,294.7 603.7,296.8 604.0,295.8 604.4,295.2 604.7,294.5 605.0,291.6 605.4,291.0 605.7,288.2 606.0,287.3 606.4,287.0 606.7,285.6 607.1,283.4 607.4,282.1 607.7,280.2 608.1,279.0 608.4,278.8 608.7,279.2 609.1,279.2 609.4,278.4 609.7,279.7 610.1,278.9 610.4,279.9 610.7,279.4 611.1,280.7 611.4,279.0 611.7,279.0 612.1,277.4 612.4,277.2 612.7,276.0 613.1,277.3 613.4,275.3 613.8,274.8 614.1,276.8 614.4,276.7 614.8,278.8 615.1,280.5 615.4,280.9 615.8,281.5 616.1,283.4 616.4,284.7 616.8,284.4 617.1,283.8 617.4,284.7 617.8,284.6 618.1,283.7 618.4,284.4 618.8,285.4 619.1,286.2 619.4,287.2 619.8,285.1 620.1,286.3 620.5,288.2" fill="none" stroke="#ed7d31" stroke-width="1.25" stroke-linejoin="round" />
<line x1="477.2" y1="354.9" x2="490.6" y2="354.9" stroke="#4472c4" stroke-width="1.2"/>
<text x="491.5" y="357.0" font-size="6.0" fill="#2a2a3a" font-family="'Liberation Sans', sans-serif" text-anchor="start" font-weight="normal" stroke="#2a2a3a" stroke-width="0.15">pro-lig</text>
<line x1="514.4" y1="354.9" x2="527.3" y2="354.9" stroke="#ed7d31" stroke-width="1.2"/>
<text x="528.5" y="357.0" font-size="6.0" fill="#2a2a3a" font-family="'Liberation Sans', sans-serif" text-anchor="start" font-weight="normal" stroke="#2a2a3a" stroke-width="0.15">pro</text>
<rect x="2" y="375" width="344.5" height="218" fill="#000"/>
<text x="6.4" y="388.8" font-size="12.8" fill="#fff" font-family="'Liberation Serif', serif" text-anchor="start" font-weight="bold" >E</text>
<polyline points="208.8,411.7 227.8,397.7 246.9,405.8 260.9,397.7 277.4,405.3" fill="none" stroke="#b4b4b4" stroke-width="0.8" stroke-linejoin="round"/>
<polyline points="277.4,405.3 283.7,418.0" fill="none" stroke="#d00000" stroke-width="1.0" stroke-linejoin="round"/>
<polyline points="279.5,404.5 285.8,417.0" fill="none" stroke="#d00000" stroke-width="0.8" stroke-linejoin="round"/>
<polyline points="206.2,428.2 208.8,411.7 213.0,409.0" fill="none" stroke="#e0a020" stroke-width="0.9" stroke-linejoin="round"/>
<polyline points="154.0,402.8 173.2,418.0 170.7,438.4 189.7,452.3 206.2,443.5" fill="none" stroke="#b4b4b4" stroke-width="0.8" stroke-linejoin="round"/>
<polyline points="152.0,401.5 156.0,404.0" fill="none" stroke="#d00000" stroke-width="1.2" stroke-linejoin="round"/>
<polyline points="170.0,416.0 175.0,420.0" fill="none" stroke="#7070d8" stroke-width="1.0" stroke-linejoin="round"/>
<polyline points="137.6,423.1 147.8,428.2 149.0,447.3 156.7,452.3 174.5,448.5 187.0,454.3 200.0,452.0" fill="none" stroke="#b4b4b4" stroke-width="0.8" stroke-linejoin="round"/>
<polyline points="137.0,422.0 141.0,425.0" fill="none" stroke="#7070d8" stroke-width="1.0" stroke-linejoin="round"/>
<polyline points="175.7,436.0 175.7,446.0" fill="none" stroke="#d00000" stroke-width="1.0" stroke-linejoin="round"/>
<polyline points="157.0,456.0 158.5,469.0" fill="none" stroke="#d00000" stroke-width="0.9" stroke-linejoin="round"/>
<polyline points="159.5,456.0 161.0,469.0" fill="none" stroke="#d00000" stroke-width="0.9" stroke-linejoin="round"/>
<polyline points="187.0,454.3 182.2,472.3" fill="none" stroke="#b4b4b4" stroke-width="0.8" stroke-linejoin="round"/>
<polyline points="189.7,452.3 203.0,451.0" fill="none" stroke="#7070d8" stroke-width="0.9" stroke-linejoin="round"/>
<polyline points="183.4,501.0 194.0,507.0 206.5,494.4" fill="none" stroke="#b4b4b4" stroke-width="0.8" stroke-linejoin="round"/>
<polyline points="194.0,507.0 177.2,516.4" fill="none" stroke="#7070d8" stroke-width="0.8" stroke-linejoin="round"/>
<polyline points="194.0,507.0 206.5,520.6" fill="none" stroke="#b4b4b4" stroke-width="0.8" stroke-linejoin="round"/>
<polyline points="206.5,520.6 207.5,534.2" fill="none" stroke="#d00000" stroke-width="1.0" stroke-linejoin="round"/>
<polyline points="209.0,520.6 210.0,534.2" fill="none" stroke="#d00000" stroke-width="1.0" stroke-linejoin="round"/>
<polyline points="245.7,463.4 245.7,489.7" fill="none" stroke="#c0c0c0" stroke-width="0.8" stroke-linejoin="round"/>
<polyline points="225.9,480.7 239.7,488.5" fill="none" stroke="#7070d8" stroke-width="0.8" stroke-linejoin="round"/>
<polyline points="230.1,497.5 244.5,489.0" fill="none" stroke="#b4b4b4" stroke-width="0.8" stroke-linejoin="round"/>
<polyline points="240.0,489.0 262.0,484.0" fill="none" stroke="#c8c8c8" stroke-width="0.9" stroke-linejoin="round"/>
<polyline points="262.4,468.0 263.5,480.0" fill="none" stroke="#d00000" stroke-width="0.9" stroke-linejoin="round"/>
<polyline points="265.8,468.0 266.5,480.0" fill="none" stroke="#d00000" stroke-width="0.9" stroke-linejoin="round"/>
<polyline points="294.6,457.7 305.5,448.5" fill="none" stroke="#b4b4b4" stroke-width="0.8" stroke-linejoin="round"/>
<polyline points="305.5,448.5 314.7,443.4" fill="none" stroke="#e0a020" stroke-width="1.0" stroke-linejoin="round"/>
<polyline points="294.6,457.7 298.0,480.4 313.9,485.5 316.4,495.6 320.6,512.0" fill="none" stroke="#b4b4b4" stroke-width="0.8" stroke-linejoin="round"/>
<polyline points="320.6,510.0 321.0,515.0" fill="none" stroke="#d00000" stroke-width="1.2" stroke-linejoin="round"/>
<polyline points="316.4,495.6 295.4,500.6" fill="none" stroke="#b4b4b4" stroke-width="0.8" stroke-linejoin="round"/>
<polyline points="316.4,495.6 329.0,504.0" fill="none" stroke="#b4b4b4" stroke-width="0.8" stroke-linejoin="round"/>
<polyline points="309.7,443.0 309.7,462.0" fill="none" stroke="#7070d8" stroke-width="0.8" stroke-linejoin="round"/>
<polyline points="309.7,462.0 317.2,467.8 319.0,474.6 316.4,495.6" fill="none" stroke="#b4b4b4" stroke-width="0.8" stroke-linejoin="round"/>
<polyline points="317.2,467.8 327.3,465.5" fill="none" stroke="#b4b4b4" stroke-width="0.8" stroke-linejoin="round"/>
<polyline points="327.3,465.5 335.7,464.3" fill="none" stroke="#d00000" stroke-width="1.5" stroke-linejoin="round"/>
<polyline points="307.0,478.0 313.5,471.5" fill="none" stroke="#7070d8" stroke-width="0.8" stroke-linejoin="round"/>
<polyline points="87.0,414.0 91.2,426.4" fill="none" stroke="#7070d8" stroke-width="0.8" stroke-linejoin="round"/>
<polyline points="91.2,426.4 82.1,444.5 80.0,466.0 76.0,478.0 72.0,485.0" fill="none" stroke="#b4b4b4" stroke-width="0.8" stroke-linejoin="round"/>
<polyline points="66.0,486.4 54.5,499.6" fill="none" stroke="#7070d8" stroke-width="0.8" stroke-linejoin="round"/>
<polyline points="54.5,499.6 46.3,516.9 30.7,511.1" fill="none" stroke="#b4b4b4" stroke-width="0.8" stroke-linejoin="round"/>
<polyline points="46.3,516.9 60.3,525.9" fill="none" stroke="#7070d8" stroke-width="0.8" stroke-linejoin="round"/>
<polyline points="48.8,497.0 54.5,501.0" fill="none" stroke="#d00000" stroke-width="1.2" stroke-linejoin="round"/>
<polyline points="74.3,475.8 89.0,477.4 89.0,470.0" fill="none" stroke="#b4b4b4" stroke-width="0.8" stroke-linejoin="round"/>
<polyline points="137.2,421.4 146.0,426.5 148.7,447.7 157.0,452.5 165.4,450.5" fill="none" stroke="#b4b4b4" stroke-width="0.8" stroke-linejoin="round"/>
<polyline points="76.0,474.0 92.0,478.0 92.5,471.0" fill="none" stroke="#909090" stroke-width="0.8" stroke-linejoin="round"/>
<polyline points="110.4,486.4 111.5,501.0" fill="none" stroke="#d00000" stroke-width="0.9" stroke-linejoin="round"/>
<polyline points="113.2,486.4 114.3,501.0" fill="none" stroke="#d00000" stroke-width="0.9" stroke-linejoin="round"/>
<polyline points="86.0,481.5 100.0,479.0" fill="none" stroke="#7070d8" stroke-width="0.8" stroke-linejoin="round"/>
<polyline points="91.2,481.5 123.2,472.4 141.5,485.4 160.0,472.0" fill="none" stroke="#30e0e0" stroke-width="1.0" stroke-linejoin="round"/>
<polyline points="111.4,476.7 122.8,472.2" fill="none" stroke="#30e0e0" stroke-width="1.0" stroke-linejoin="round"/>
<polyline points="96.3,473.0 110.0,483.5" fill="none" stroke="#7070d8" stroke-width="0.9" stroke-linejoin="round"/>
<polyline points="141.5,485.4 140.9,495.0" fill="none" stroke="#30e0e0" stroke-width="1.0" stroke-linejoin="round"/>
<polyline points="140.9,495.0 136.7,505.2" fill="none" stroke="#7070d8" stroke-width="0.9" stroke-linejoin="round"/>
<polyline points="92.0,437.0 97.0,437.0" fill="none" stroke="#30e0e0" stroke-width="1.1" stroke-linejoin="round"/>
<polyline points="94.5,434.5 94.5,439.5" fill="none" stroke="#30e0e0" stroke-width="1.1" stroke-linejoin="round"/>
<polyline points="240.0,544.0 244.3,557.8 229.5,569.3" fill="none" stroke="#b4b4b4" stroke-width="0.8" stroke-linejoin="round"/>
<polyline points="229.5,569.3 213.0,569.3" fill="none" stroke="#7070d8" stroke-width="0.8" stroke-linejoin="round"/>
<polyline points="211.4,569.3 211.4,576.7" fill="none" stroke="#d00000" stroke-width="1.0" stroke-linejoin="round"/>
<polyline points="213.8,569.3 213.8,576.7" fill="none" stroke="#d00000" stroke-width="1.0" stroke-linejoin="round"/>
<polyline points="244.3,557.8 262.3,560.3" fill="none" stroke="#b4b4b4" stroke-width="0.8" stroke-linejoin="round"/>
<polyline points="237.5,537.0 252.0,525.0" fill="none" stroke="#b0b0b0" stroke-width="0.8" stroke-linejoin="round"/>
<line x1="104.3" y1="450.2" x2="113.3" y2="450.6" stroke="#5a5a5a" stroke-width="4.4" stroke-linecap="round"/>
<line x1="113.3" y1="450.6" x2="122.4" y2="451.0" stroke="#5a5a5a" stroke-width="4.4" stroke-linecap="round"/>
<line x1="122.4" y1="451.0" x2="126.5" y2="461.3" stroke="#5a5a5a" stroke-width="4.4" stroke-linecap="round"/>
<line x1="126.5" y1="461.3" x2="130.6" y2="471.6" stroke="#5a5a5a" stroke-width="4.4" stroke-linecap="round"/>
<line x1="130.6" y1="471.6" x2="125.7" y2="476.1" stroke="#5a5a5a" stroke-width="4.4" stroke-linecap="round"/>
<line x1="125.7" y1="476.1" x2="120.8" y2="480.6" stroke="#a00000" stroke-width="4.4" stroke-linecap="round"/>
<line x1="120.8" y1="480.6" x2="111.8" y2="483.1" stroke="#a00000" stroke-width="4.4" stroke-linecap="round"/>
<line x1="111.8" y1="483.1" x2="102.7" y2="485.6" stroke="#5a5a5a" stroke-width="4.4" stroke-linecap="round"/>
<line x1="102.7" y1="485.6" x2="96.6" y2="476.1" stroke="#5a5a5a" stroke-width="4.4" stroke-linecap="round"/>
<line x1="96.6" y1="476.1" x2="90.4" y2="466.7" stroke="#5a5a5a" stroke-width="4.4" stroke-linecap="round"/>
<line x1="90.4" y1="466.7" x2="97.3" y2="458.4" stroke="#5a5a5a" stroke-width="4.4" stroke-linecap="round"/>
<line x1="97.3" y1="458.4" x2="104.3" y2="450.2" stroke="#5a5a5a" stroke-width="4.4" stroke-linecap="round"/>
<line x1="104.3" y1="450.2" x2="101.7" y2="444.1" stroke="#5a5a5a" stroke-width="4.4" stroke-linecap="round"/>
<line x1="101.7" y1="444.1" x2="99.0" y2="438.0" stroke="#a00000" stroke-width="4.4" stroke-linecap="round"/>
<line x1="99.0" y1="438.0" x2="96.8" y2="432.5" stroke="#a00000" stroke-width="4.4" stroke-linecap="round"/>
<line x1="96.8" y1="432.5" x2="94.5" y2="427.0" stroke="#a0a0a0" stroke-width="4.4" stroke-linecap="round"/>
<line x1="122.4" y1="451.0" x2="129.0" y2="445.2" stroke="#5a5a5a" stroke-width="4.4" stroke-linecap="round"/>
<line x1="129.0" y1="445.2" x2="135.6" y2="439.5" stroke="#a00000" stroke-width="4.4" stroke-linecap="round"/>
<line x1="135.6" y1="439.5" x2="135.6" y2="434.0" stroke="#a00000" stroke-width="4.4" stroke-linecap="round"/>
<line x1="135.6" y1="434.0" x2="135.6" y2="428.5" stroke="#a0a0a0" stroke-width="4.4" stroke-linecap="round"/>
<line x1="90.4" y1="466.7" x2="82.6" y2="465.4" stroke="#5a5a5a" stroke-width="4.4" stroke-linecap="round"/>
<line x1="82.6" y1="465.4" x2="74.7" y2="464.2" stroke="#a00000" stroke-width="4.4" stroke-linecap="round"/>
<line x1="74.7" y1="464.2" x2="72.8" y2="459.1" stroke="#a00000" stroke-width="4.4" stroke-linecap="round"/>
<line x1="72.8" y1="459.1" x2="70.8" y2="454.0" stroke="#a0a0a0" stroke-width="4.4" stroke-linecap="round"/>
<line x1="130.6" y1="471.6" x2="138.3" y2="472.1" stroke="#5a5a5a" stroke-width="4.4" stroke-linecap="round"/>
<line x1="138.3" y1="472.1" x2="146.0" y2="472.5" stroke="#a00000" stroke-width="4.4" stroke-linecap="round"/>
<line x1="146.0" y1="472.5" x2="151.8" y2="473.5" stroke="#a00000" stroke-width="4.4" stroke-linecap="round"/>
<line x1="151.8" y1="473.5" x2="157.5" y2="474.5" stroke="#5a5a5a" stroke-width="4.4" stroke-linecap="round"/>
<line x1="102.7" y1="485.6" x2="95.8" y2="493.8" stroke="#5a5a5a" stroke-width="4.4" stroke-linecap="round"/>
<line x1="95.8" y1="493.8" x2="89.0" y2="502.0" stroke="#5a5a5a" stroke-width="4.4" stroke-linecap="round"/>
<line x1="89.0" y1="502.0" x2="83.0" y2="497.5" stroke="#5a5a5a" stroke-width="4.4" stroke-linecap="round"/>
<line x1="83.0" y1="497.5" x2="77.0" y2="493.0" stroke="#a00000" stroke-width="4.4" stroke-linecap="round"/>
<line x1="77.0" y1="493.0" x2="72.0" y2="490.0" stroke="#a00000" stroke-width="4.4" stroke-linecap="round"/>
<line x1="72.0" y1="490.0" x2="67.0" y2="487.0" stroke="#a0a0a0" stroke-width="4.4" stroke-linecap="round"/>
<line x1="157.5" y1="474.5" x2="160.2" y2="475.2" stroke="#5a5a5a" stroke-width="4.4" stroke-linecap="round"/>
<line x1="160.2" y1="475.2" x2="163.0" y2="475.9" stroke="#5a5a5a" stroke-width="4.4" stroke-linecap="round"/>
<line x1="163.0" y1="475.9" x2="170.8" y2="470.2" stroke="#5a5a5a" stroke-width="4.4" stroke-linecap="round"/>
<line x1="170.8" y1="470.2" x2="178.6" y2="464.5" stroke="#5a5a5a" stroke-width="4.4" stroke-linecap="round"/>
<line x1="178.6" y1="464.5" x2="186.9" y2="467.2" stroke="#5a5a5a" stroke-width="4.4" stroke-linecap="round"/>
<line x1="186.9" y1="467.2" x2="195.3" y2="469.9" stroke="#5a5a5a" stroke-width="4.4" stroke-linecap="round"/>
<line x1="195.3" y1="469.9" x2="196.5" y2="479.4" stroke="#5a5a5a" stroke-width="4.4" stroke-linecap="round"/>
<line x1="196.5" y1="479.4" x2="197.7" y2="489.0" stroke="#5a5a5a" stroke-width="4.4" stroke-linecap="round"/>
<line x1="197.7" y1="489.0" x2="190.6" y2="495.0" stroke="#5a5a5a" stroke-width="4.4" stroke-linecap="round"/>
<line x1="190.6" y1="495.0" x2="183.4" y2="501.0" stroke="#5a5a5a" stroke-width="4.4" stroke-linecap="round"/>
<line x1="183.4" y1="501.0" x2="174.4" y2="498.0" stroke="#5a5a5a" stroke-width="4.4" stroke-linecap="round"/>
<line x1="174.4" y1="498.0" x2="165.4" y2="495.0" stroke="#5a5a5a" stroke-width="4.4" stroke-linecap="round"/>
<line x1="165.4" y1="495.0" x2="164.2" y2="485.4" stroke="#5a5a5a" stroke-width="4.4" stroke-linecap="round"/>
<line x1="164.2" y1="485.4" x2="163.0" y2="475.9" stroke="#5a5a5a" stroke-width="4.4" stroke-linecap="round"/>
<line x1="197.7" y1="489.0" x2="207.9" y2="491.1" stroke="#5a5a5a" stroke-width="4.4" stroke-linecap="round"/>
<line x1="207.9" y1="491.1" x2="218.2" y2="493.3" stroke="#5a5a5a" stroke-width="4.4" stroke-linecap="round"/>
<line x1="218.2" y1="493.3" x2="224.8" y2="489.4" stroke="#5a5a5a" stroke-width="4.4" stroke-linecap="round"/>
<line x1="224.8" y1="489.4" x2="231.3" y2="485.5" stroke="#5a5a5a" stroke-width="4.4" stroke-linecap="round"/>
<line x1="231.3" y1="485.5" x2="241.4" y2="488.2" stroke="#5a5a5a" stroke-width="4.4" stroke-linecap="round"/>
<line x1="241.4" y1="488.2" x2="251.6" y2="490.9" stroke="#5a5a5a" stroke-width="4.4" stroke-linecap="round"/>
<line x1="251.6" y1="490.9" x2="252.6" y2="500.7" stroke="#5a5a5a" stroke-width="4.4" stroke-linecap="round"/>
<line x1="252.6" y1="500.7" x2="253.6" y2="510.5" stroke="#5a5a5a" stroke-width="4.4" stroke-linecap="round"/>
<line x1="218.2" y1="493.3" x2="218.6" y2="503.1" stroke="#5a5a5a" stroke-width="4.4" stroke-linecap="round"/>
<line x1="218.6" y1="503.1" x2="219.0" y2="513.0" stroke="#a00000" stroke-width="4.4" stroke-linecap="round"/>
<line x1="219.0" y1="513.0" x2="227.5" y2="517.0" stroke="#a00000" stroke-width="4.4" stroke-linecap="round"/>
<line x1="227.5" y1="517.0" x2="236.0" y2="521.0" stroke="#5a5a5a" stroke-width="4.4" stroke-linecap="round"/>
<line x1="236.0" y1="521.0" x2="244.8" y2="515.8" stroke="#5a5a5a" stroke-width="4.4" stroke-linecap="round"/>
<line x1="244.8" y1="515.8" x2="253.6" y2="510.5" stroke="#5a5a5a" stroke-width="4.4" stroke-linecap="round"/>
<line x1="253.6" y1="510.5" x2="261.9" y2="514.5" stroke="#5a5a5a" stroke-width="4.4" stroke-linecap="round"/>
<line x1="261.9" y1="514.5" x2="270.3" y2="518.5" stroke="#5a5a5a" stroke-width="4.4" stroke-linecap="round"/>
<line x1="270.3" y1="518.5" x2="271.4" y2="528.4" stroke="#5a5a5a" stroke-width="4.4" stroke-linecap="round"/>
<line x1="271.4" y1="528.4" x2="272.4" y2="538.3" stroke="#5a5a5a" stroke-width="4.4" stroke-linecap="round"/>
<line x1="272.4" y1="538.3" x2="263.5" y2="543.0" stroke="#5a5a5a" stroke-width="4.4" stroke-linecap="round"/>
<line x1="263.5" y1="543.0" x2="254.6" y2="547.8" stroke="#5a5a5a" stroke-width="4.4" stroke-linecap="round"/>
<line x1="254.6" y1="547.8" x2="246.2" y2="544.1" stroke="#5a5a5a" stroke-width="4.4" stroke-linecap="round"/>
<line x1="246.2" y1="544.1" x2="237.9" y2="540.4" stroke="#5a5a5a" stroke-width="4.4" stroke-linecap="round"/>
<line x1="237.9" y1="540.4" x2="236.9" y2="530.7" stroke="#5a5a5a" stroke-width="4.4" stroke-linecap="round"/>
<line x1="236.9" y1="530.7" x2="236.0" y2="521.0" stroke="#5a5a5a" stroke-width="4.4" stroke-linecap="round"/>
<line x1="254.6" y1="547.8" x2="255.1" y2="555.9" stroke="#5a5a5a" stroke-width="4.4" stroke-linecap="round"/>
<line x1="255.1" y1="555.9" x2="255.5" y2="564.0" stroke="#a00000" stroke-width="4.4" stroke-linecap="round"/>
<line x1="255.5" y1="564.0" x2="252.8" y2="570.5" stroke="#a00000" stroke-width="4.4" stroke-linecap="round"/>
<line x1="252.8" y1="570.5" x2="250.0" y2="577.0" stroke="#5a5a5a" stroke-width="4.4" stroke-linecap="round"/>
<line x1="104.3" y1="450.2" x2="113.3" y2="450.6" stroke="#7e7e7e" stroke-width="1.6" stroke-linecap="round"/>
<line x1="113.3" y1="450.6" x2="122.4" y2="451.0" stroke="#7e7e7e" stroke-width="1.6" stroke-linecap="round"/>
<line x1="122.4" y1="451.0" x2="126.5" y2="461.3" stroke="#7e7e7e" stroke-width="1.6" stroke-linecap="round"/>
<line x1="126.5" y1="461.3" x2="130.6" y2="471.6" stroke="#7e7e7e" stroke-width="1.6" stroke-linecap="round"/>
<line x1="130.6" y1="471.6" x2="125.7" y2="476.1" stroke="#7e7e7e" stroke-width="1.6" stroke-linecap="round"/>
<line x1="125.7" y1="476.1" x2="120.8" y2="480.6" stroke="#d01515" stroke-width="1.6" stroke-linecap="round"/>
<line x1="120.8" y1="480.6" x2="111.8" y2="483.1" stroke="#d01515" stroke-width="1.6" stroke-linecap="round"/>
<line x1="111.8" y1="483.1" x2="102.7" y2="485.6" stroke="#7e7e7e" stroke-width="1.6" stroke-linecap="round"/>
<line x1="102.7" y1="485.6" x2="96.6" y2="476.1" stroke="#7e7e7e" stroke-width="1.6" stroke-linecap="round"/>
<line x1="96.6" y1="476.1" x2="90.4" y2="466.7" stroke="#7e7e7e" stroke-width="1.6" stroke-linecap="round"/>
<line x1="90.4" y1="466.7" x2="97.3" y2="458.4" stroke="#7e7e7e" stroke-width="1.6" stroke-linecap="round"/>
<line x1="97.3" y1="458.4" x2="104.3" y2="450.2" stroke="#7e7e7e" stroke-width="1.6" stroke-linecap="round"/>
<line x1="104.3" y1="450.2" x2="101.7" y2="444.1" stroke="#7e7e7e" stroke-width="1.6" stroke-linecap="round"/>
<line x1="101.7" y1="444.1" x2="99.0" y2="438.0" stroke="#d01515" stroke-width="1.6" stroke-linecap="round"/>
<line x1="99.0" y1="438.0" x2="96.8" y2="432.5" stroke="#d01515" stroke-width="1.6" stroke-linecap="round"/>
<line x1="96.8" y1="432.5" x2="94.5" y2="427.0" stroke="#e4e4e4" stroke-width="1.6" stroke-linecap="round"/>
<line x1="122.4" y1="451.0" x2="129.0" y2="445.2" stroke="#7e7e7e" stroke-width="1.6" stroke-linecap="round"/>
<line x1="129.0" y1="445.2" x2="135.6" y2="439.5" stroke="#d01515" stroke-width="1.6" stroke-linecap="round"/>
<line x1="135.6" y1="439.5" x2="135.6" y2="434.0" stroke="#d01515" stroke-width="1.6" stroke-linecap="round"/>
<line x1="135.6" y1="434.0" x2="135.6" y2="428.5" stroke="#e4e4e4" stroke-width="1.6" stroke-linecap="round"/>
<line x1="90.4" y1="466.7" x2="82.6" y2="465.4" stroke="#7e7e7e" stroke-width="1.6" stroke-linecap="round"/>
<line x1="82.6" y1="465.4" x2="74.7" y2="464.2" stroke="#d01515" stroke-width="1.6" stroke-linecap="round"/>
<line x1="74.7" y1="464.2" x2="72.8" y2="459.1" stroke="#d01515" stroke-width="1.6" stroke-linecap="round"/>
<line x1="72.8" y1="459.1" x2="70.8" y2="454.0" stroke="#e4e4e4" stroke-width="1.6" stroke-linecap="round"/>
<line x1="130.6" y1="471.6" x2="138.3" y2="472.1" stroke="#7e7e7e" stroke-width="1.6" stroke-linecap="round"/>
<line x1="138.3" y1="472.1" x2="146.0" y2="472.5" stroke="#d01515" stroke-width="1.6" stroke-linecap="round"/>
<line x1="146.0" y1="472.5" x2="151.8" y2="473.5" stroke="#d01515" stroke-width="1.6" stroke-linecap="round"/>
<line x1="151.8" y1="473.5" x2="157.5" y2="474.5" stroke="#7e7e7e" stroke-width="1.6" stroke-linecap="round"/>
<line x1="102.7" y1="485.6" x2="95.8" y2="493.8" stroke="#7e7e7e" stroke-width="1.6" stroke-linecap="round"/>
<line x1="95.8" y1="493.8" x2="89.0" y2="502.0" stroke="#7e7e7e" stroke-width="1.6" stroke-linecap="round"/>
<line x1="89.0" y1="502.0" x2="83.0" y2="497.5" stroke="#7e7e7e" stroke-width="1.6" stroke-linecap="round"/>
<line x1="83.0" y1="497.5" x2="77.0" y2="493.0" stroke="#d01515" stroke-width="1.6" stroke-linecap="round"/>
<line x1="77.0" y1="493.0" x2="72.0" y2="490.0" stroke="#d01515" stroke-width="1.6" stroke-linecap="round"/>
<line x1="72.0" y1="490.0" x2="67.0" y2="487.0" stroke="#e4e4e4" stroke-width="1.6" stroke-linecap="round"/>
<line x1="157.5" y1="474.5" x2="160.2" y2="475.2" stroke="#7e7e7e" stroke-width="1.6" stroke-linecap="round"/>
<line x1="160.2" y1="475.2" x2="163.0" y2="475.9" stroke="#7e7e7e" stroke-width="1.6" stroke-linecap="round"/>
<line x1="163.0" y1="475.9" x2="170.8" y2="470.2" stroke="#7e7e7e" stroke-width="1.6" stroke-linecap="round"/>
<line x1="170.8" y1="470.2" x2="178.6" y2="464.5" stroke="#7e7e7e" stroke-width="1.6" stroke-linecap="round"/>
<line x1="178.6" y1="464.5" x2="186.9" y2="467.2" stroke="#7e7e7e" stroke-width="1.6" stroke-linecap="round"/>
<line x1="186.9" y1="467.2" x2="195.3" y2="469.9" stroke="#7e7e7e" stroke-width="1.6" stroke-linecap="round"/>
<line x1="195.3" y1="469.9" x2="196.5" y2="479.4" stroke="#7e7e7e" stroke-width="1.6" stroke-linecap="round"/>
<line x1="196.5" y1="479.4" x2="197.7" y2="489.0" stroke="#7e7e7e" stroke-width="1.6" stroke-linecap="round"/>
<line x1="197.7" y1="489.0" x2="190.6" y2="495.0" stroke="#7e7e7e" stroke-width="1.6" stroke-linecap="round"/>
<line x1="190.6" y1="495.0" x2="183.4" y2="501.0" stroke="#7e7e7e" stroke-width="1.6" stroke-linecap="round"/>
<line x1="183.4" y1="501.0" x2="174.4" y2="498.0" stroke="#7e7e7e" stroke-width="1.6" stroke-linecap="round"/>
<line x1="174.4" y1="498.0" x2="165.4" y2="495.0" stroke="#7e7e7e" stroke-width="1.6" stroke-linecap="round"/>
<line x1="165.4" y1="495.0" x2="164.2" y2="485.4" stroke="#7e7e7e" stroke-width="1.6" stroke-linecap="round"/>
<line x1="164.2" y1="485.4" x2="163.0" y2="475.9" stroke="#7e7e7e" stroke-width="1.6" stroke-linecap="round"/>
<line x1="197.7" y1="489.0" x2="207.9" y2="491.1" stroke="#7e7e7e" stroke-width="1.6" stroke-linecap="round"/>
<line x1="207.9" y1="491.1" x2="218.2" y2="493.3" stroke="#7e7e7e" stroke-width="1.6" stroke-linecap="round"/>
<line x1="218.2" y1="493.3" x2="224.8" y2="489.4" stroke="#7e7e7e" stroke-width="1.6" stroke-linecap="round"/>
<line x1="224.8" y1="489.4" x2="231.3" y2="485.5" stroke="#7e7e7e" stroke-width="1.6" stroke-linecap="round"/>
<line x1="231.3" y1="485.5" x2="241.4" y2="488.2" stroke="#7e7e7e" stroke-width="1.6" stroke-linecap="round"/>
<line x1="241.4" y1="488.2" x2="251.6" y2="490.9" stroke="#7e7e7e" stroke-width="1.6" stroke-linecap="round"/>
<line x1="251.6" y1="490.9" x2="252.6" y2="500.7" stroke="#7e7e7e" stroke-width="1.6" stroke-linecap="round"/>
<line x1="252.6" y1="500.7" x2="253.6" y2="510.5" stroke="#7e7e7e" stroke-width="1.6" stroke-linecap="round"/>
<line x1="218.2" y1="493.3" x2="218.6" y2="503.1" stroke="#7e7e7e" stroke-width="1.6" stroke-linecap="round"/>
<line x1="218.6" y1="503.1" x2="219.0" y2="513.0" stroke="#d01515" stroke-width="1.6" stroke-linecap="round"/>
<line x1="219.0" y1="513.0" x2="227.5" y2="517.0" stroke="#d01515" stroke-width="1.6" stroke-linecap="round"/>
<line x1="227.5" y1="517.0" x2="236.0" y2="521.0" stroke="#7e7e7e" stroke-width="1.6" stroke-linecap="round"/>
<line x1="236.0" y1="521.0" x2="244.8" y2="515.8" stroke="#7e7e7e" stroke-width="1.6" stroke-linecap="round"/>
<line x1="244.8" y1="515.8" x2="253.6" y2="510.5" stroke="#7e7e7e" stroke-width="1.6" stroke-linecap="round"/>
<line x1="253.6" y1="510.5" x2="261.9" y2="514.5" stroke="#7e7e7e" stroke-width="1.6" stroke-linecap="round"/>
<line x1="261.9" y1="514.5" x2="270.3" y2="518.5" stroke="#7e7e7e" stroke-width="1.6" stroke-linecap="round"/>
<line x1="270.3" y1="518.5" x2="271.4" y2="528.4" stroke="#7e7e7e" stroke-width="1.6" stroke-linecap="round"/>
<line x1="271.4" y1="528.4" x2="272.4" y2="538.3" stroke="#7e7e7e" stroke-width="1.6" stroke-linecap="round"/>
<line x1="272.4" y1="538.3" x2="263.5" y2="543.0" stroke="#7e7e7e" stroke-width="1.6" stroke-linecap="round"/>
<line x1="263.5" y1="543.0" x2="254.6" y2="547.8" stroke="#7e7e7e" stroke-width="1.6" stroke-linecap="round"/>
<line x1="254.6" y1="547.8" x2="246.2" y2="544.1" stroke="#7e7e7e" stroke-width="1.6" stroke-linecap="round"/>
<line x1="246.2" y1="544.1" x2="237.9" y2="540.4" stroke="#7e7e7e" stroke-width="1.6" stroke-linecap="round"/>
<line x1="237.9" y1="540.4" x2="236.9" y2="530.7" stroke="#7e7e7e" stroke-width="1.6" stroke-linecap="round"/>
<line x1="236.9" y1="530.7" x2="236.0" y2="521.0" stroke="#7e7e7e" stroke-width="1.6" stroke-linecap="round"/>
<line x1="254.6" y1="547.8" x2="255.1" y2="555.9" stroke="#7e7e7e" stroke-width="1.6" stroke-linecap="round"/>
<line x1="255.1" y1="555.9" x2="255.5" y2="564.0" stroke="#d01515" stroke-width="1.6" stroke-linecap="round"/>
<line x1="255.5" y1="564.0" x2="252.8" y2="570.5" stroke="#d01515" stroke-width="1.6" stroke-linecap="round"/>
<line x1="252.8" y1="570.5" x2="250.0" y2="577.0" stroke="#7e7e7e" stroke-width="1.6" stroke-linecap="round"/>
<line x1="252.5" y1="489.5" x2="259.5" y2="485.5" stroke="#d0d0d0" stroke-width="1.1"/>
<line x1="259.5" y1="485.5" x2="266.5" y2="482" stroke="#e01010" stroke-width="1.3"/>
<line x1="251.5" y1="492.5" x2="258.5" y2="488.5" stroke="#d0d0d0" stroke-width="1.1"/>
<line x1="258.5" y1="488.5" x2="265.5" y2="485" stroke="#e01010" stroke-width="1.3"/>
<circle cx="266.5" cy="483" r="1.8" fill="#e01010"/>
<circle cx="181" cy="482.7" r="10.5" fill="none" stroke="#b0b0b0" stroke-width="0.7" stroke-dasharray="2.2,2"/>
<circle cx="254.2" cy="529.5" r="10.5" fill="none" stroke="#b0b0b0" stroke-width="0.7" stroke-dasharray="2.2,2"/>
<circle cx="181" cy="482.7" r="1.8" fill="#b07060"/>
<circle cx="254.2" cy="529.8" r="1.8" fill="#a060b0"/>
<circle cx="240.3" cy="481.9" r="1.5" fill="#a060b0"/>
<line x1="208.8" y1="413" x2="183.5" y2="476" stroke="#e8a830" stroke-width="1.4" stroke-dasharray="4,2.6"/>
<line x1="74.3" y1="498" x2="61.9" y2="522.6" stroke="#18a018" stroke-width="1.4" stroke-dasharray="4,2.6"/>
<line x1="76.4" y1="467" x2="92.8" y2="471.6" stroke="#10a010" stroke-width="1.0" stroke-dasharray="4,2.6"/>
<line x1="92" y1="428" x2="95" y2="436" stroke="#10a010" stroke-width="1.0" stroke-dasharray="4,2.6"/>
<line x1="268.5" y1="483" x2="303.8" y2="477.9" stroke="#10b010" stroke-width="1.5" stroke-dasharray="4,2.6"/>
<line x1="271.9" y1="480.4" x2="303.8" y2="465.3" stroke="#d0f0d0" stroke-width="1.5" stroke-dasharray="4,2.6"/>
<line x1="240.3" y1="481.9" x2="254.2" y2="529.8" stroke="#b888c8" stroke-width="1.4" stroke-dasharray="4,2.6"/>
<text x="357.0" y="385.6" font-size="13.4" fill="#000" font-family="'Liberation Serif', serif" text-anchor="start" font-weight="bold" >F</text>
<defs><radialGradient id="rg_g" cx="50%" cy="45%" r="55%"><stop offset="0" stop-color="#8cf58c"/><stop offset="1" stop-color="#2fd62f"/></radialGradient><radialGradient id="rg_r" cx="50%" cy="45%" r="55%"><stop offset="0" stop-color="#ff8a8a"/><stop offset="1" stop-color="#ee2a2a"/></radialGradient><radialGradient id="rg_p" cx="50%" cy="45%" r="55%"><stop offset="0" stop-color="#dfb0ff"/><stop offset="1" stop-color="#b768f0"/></radialGradient><radialGradient id="rg_lg" cx="50%" cy="45%" r="55%"><stop offset="0" stop-color="#f4fff4"/><stop offset="1" stop-color="#dcf6dc"/></radialGradient><radialGradient id="rg_o" cx="50%" cy="45%" r="55%"><stop offset="0" stop-color="#ffe080"/><stop offset="1" stop-color="#f5b820"/></radialGradient><radialGradient id="rg_pk" cx="50%" cy="45%" r="55%"><stop offset="0" stop-color="#fff0ff"/><stop offset="1" stop-color="#f8c8f8"/></radialGradient><radialGradient id="halo" cx="50%" cy="50%" r="50%"><stop offset="0" stop-color="#dce3f6"/><stop offset="0.8" stop-color="#e4e9f8"/><stop offset="1" stop-color="#eef1fb" stop-opacity="0"/></radialGradient></defs>
<circle cx="495.6" cy="393.5" r="14" fill="url(#halo)"/>
<circle cx="523.4" cy="396.5" r="15" fill="url(#halo)"/>
<circle cx="611.7" cy="416.5" r="15" fill="url(#halo)"/>
<circle cx="454.9" cy="517.5" r="13.5" fill="url(#halo)"/>
<circle cx="460.1" cy="486" r="4.5" fill="url(#halo)"/>
<circle cx="488.4" cy="485.8" r="4.5" fill="url(#halo)"/>
<circle cx="594.6" cy="473.5" r="5" fill="url(#halo)"/>
<circle cx="594.5" cy="449.5" r="3" fill="url(#halo)"/>
<line x1="481.4" y1="448.7" x2="484.9" y2="455.15" stroke="#8a8a8a" stroke-width="0.75"/>
<line x1="484.9" y1="455.15" x2="488.4" y2="461.6" stroke="#e02020" stroke-width="0.75"/>
<line x1="488.4" y1="461.6" x2="484.9" y2="467.6" stroke="#e02020" stroke-width="0.75"/>
<line x1="484.9" y1="467.6" x2="481.4" y2="473.6" stroke="#8a8a8a" stroke-width="0.75"/>
<line x1="481.4" y1="473.6" x2="466.6" y2="473.6" stroke="#8a8a8a" stroke-width="0.75"/>
<line x1="466.6" y1="473.6" x2="460.1" y2="461.6" stroke="#8a8a8a" stroke-width="0.75"/>
<line x1="460.1" y1="461.6" x2="466.6" y2="448.7" stroke="#8a8a8a" stroke-width="0.75"/>
<line x1="466.6" y1="448.7" x2="481.4" y2="448.7" stroke="#8a8a8a" stroke-width="0.75"/>
<line x1="466.6" y1="448.7" x2="463.8" y2="442.85" stroke="#8a8a8a" stroke-width="0.75"/>
<line x1="463.8" y1="442.85" x2="461" y2="437" stroke="#e02020" stroke-width="0.75"/>
<line x1="481.4" y1="448.7" x2="484.9" y2="442.85" stroke="#8a8a8a" stroke-width="0.75"/>
<line x1="484.9" y1="442.85" x2="488.4" y2="437" stroke="#e02020" stroke-width="0.75"/>
<line x1="488.4" y1="437" x2="495.15" y2="437.0" stroke="#e02020" stroke-width="0.75"/>
<line x1="495.15" y1="437.0" x2="501.9" y2="437" stroke="#8a8a8a" stroke-width="0.75"/>
<line x1="501.9" y1="437" x2="509" y2="424.7" stroke="#8a8a8a" stroke-width="0.75"/>
<line x1="509" y1="424.7" x2="523.4" y2="424.7" stroke="#8a8a8a" stroke-width="0.75"/>
<line x1="523.4" y1="424.7" x2="530.6" y2="437" stroke="#8a8a8a" stroke-width="0.75"/>
<line x1="530.6" y1="437" x2="523.4" y2="449" stroke="#8a8a8a" stroke-width="0.75"/>
<line x1="523.4" y1="449" x2="509" y2="449" stroke="#8a8a8a" stroke-width="0.75"/>
<line x1="509" y1="449" x2="501.9" y2="437" stroke="#8a8a8a" stroke-width="0.75"/>
<circle cx="516.2" cy="436.9" r="9" fill="none" stroke="#9a9a9a" stroke-width="0.6" stroke-dasharray="1.4,1.2"/>
<line x1="460.1" y1="461.6" x2="453.0" y2="461.6" stroke="#8a8a8a" stroke-width="0.75"/>
<line x1="453.0" y1="461.6" x2="445.9" y2="461.6" stroke="#e02020" stroke-width="0.75"/>
<line x1="466.6" y1="473.6" x2="463.35" y2="479.6" stroke="#8a8a8a" stroke-width="0.75"/>
<line x1="463.35" y1="479.6" x2="460.1" y2="485.6" stroke="#e02020" stroke-width="0.75"/>
<line x1="481.4" y1="473.6" x2="488.4" y2="485.6" stroke="#8a8a8a" stroke-width="0.75"/>
<line x1="488.4" y1="485.6" x2="484.9" y2="491.65" stroke="#8a8a8a" stroke-width="0.75"/>
<line x1="484.9" y1="491.65" x2="481.4" y2="497.7" stroke="#e02020" stroke-width="0.75"/>
<line x1="530.6" y1="437" x2="544.8" y2="436.4" stroke="#8a8a8a" stroke-width="0.75"/>
<line x1="544.8" y1="436.4" x2="551.4" y2="425" stroke="#8a8a8a" stroke-width="0.75"/>
<line x1="551.4" y1="425" x2="565.4" y2="425" stroke="#8a8a8a" stroke-width="0.75"/>
<line x1="565.4" y1="425" x2="572.8" y2="436.4" stroke="#8a8a8a" stroke-width="0.75"/>
<line x1="572.8" y1="436.4" x2="566.2" y2="449.3" stroke="#8a8a8a" stroke-width="0.75"/>
<line x1="566.2" y1="449.3" x2="558.8" y2="449.3" stroke="#8a8a8a" stroke-width="0.75"/>
<line x1="558.8" y1="449.3" x2="551.4" y2="449.3" stroke="#e02020" stroke-width="0.75"/>
<line x1="551.4" y1="449.3" x2="548.0999999999999" y2="442.85" stroke="#e02020" stroke-width="0.75"/>
<line x1="548.0999999999999" y1="442.85" x2="544.8" y2="436.4" stroke="#8a8a8a" stroke-width="0.75"/>
<line x1="565.4" y1="425" x2="568.8499999999999" y2="417.85" stroke="#8a8a8a" stroke-width="0.75"/>
<line x1="568.8499999999999" y1="417.85" x2="572.3" y2="410.7" stroke="#e02020" stroke-width="0.75"/>
<line x1="563.6" y1="424" x2="567.05" y2="416.9" stroke="#8a8a8a" stroke-width="0.75"/>
<line x1="567.05" y1="416.9" x2="570.5" y2="409.8" stroke="#e02020" stroke-width="0.75"/>
<line x1="572.8" y1="436.4" x2="587.6" y2="436.4" stroke="#8a8a8a" stroke-width="0.75"/>
<line x1="587.6" y1="436.4" x2="594.1" y2="449.3" stroke="#8a8a8a" stroke-width="0.75"/>
<line x1="594.1" y1="449.3" x2="587.6" y2="461.1" stroke="#8a8a8a" stroke-width="0.75"/>
<line x1="587.6" y1="461.1" x2="572.8" y2="461.1" stroke="#8a8a8a" stroke-width="0.75"/>
<line x1="572.8" y1="461.1" x2="566.2" y2="449.3" stroke="#8a8a8a" stroke-width="0.75"/>
<line x1="566.2" y1="449.3" x2="572.8" y2="436.4" stroke="#8a8a8a" stroke-width="0.75"/>
<circle cx="580.2" cy="448.8" r="8.6" fill="none" stroke="#9a9a9a" stroke-width="0.6" stroke-dasharray="1.4,1.2"/>
<line x1="587.6" y1="461.1" x2="590.95" y2="467.3" stroke="#8a8a8a" stroke-width="0.75"/>
<line x1="590.95" y1="467.3" x2="594.3" y2="473.5" stroke="#e02020" stroke-width="0.75"/>
<circle cx="461" cy="437" r="2.3" fill="#fff"/>
<ellipse cx="461" cy="437" rx="1.4" ry="1.8" fill="none" stroke="#e02020" stroke-width="0.7"/>
<circle cx="488.4" cy="437" r="2.3" fill="#fff"/>
<ellipse cx="488.4" cy="437" rx="1.4" ry="1.8" fill="none" stroke="#e02020" stroke-width="0.7"/>
<circle cx="445.9" cy="461.6" r="2.3" fill="#fff"/>
<ellipse cx="445.9" cy="461.6" rx="1.4" ry="1.8" fill="none" stroke="#e02020" stroke-width="0.7"/>
<circle cx="460.1" cy="485.6" r="2.3" fill="#fff"/>
<ellipse cx="460.1" cy="485.6" rx="1.4" ry="1.8" fill="none" stroke="#e02020" stroke-width="0.7"/>
<circle cx="481.4" cy="497.7" r="2.3" fill="#fff"/>
<ellipse cx="481.4" cy="497.7" rx="1.4" ry="1.8" fill="none" stroke="#e02020" stroke-width="0.7"/>
<circle cx="488.4" cy="461.6" r="2.3" fill="#fff"/>
<ellipse cx="488.4" cy="461.6" rx="1.4" ry="1.8" fill="none" stroke="#e02020" stroke-width="0.7"/>
<circle cx="551.4" cy="449.3" r="2.3" fill="#fff"/>
<ellipse cx="551.4" cy="449.3" rx="1.4" ry="1.8" fill="none" stroke="#e02020" stroke-width="0.7"/>
<circle cx="594.3" cy="473.5" r="2.3" fill="#fff"/>
<ellipse cx="594.3" cy="473.5" rx="1.4" ry="1.8" fill="none" stroke="#e02020" stroke-width="0.7"/>
<text x="463.4" y="432.9" font-size="4.8" fill="#333" font-family="'Liberation Sans', sans-serif" text-anchor="middle" font-weight="normal" stroke="#333" stroke-width="0.2">H</text>
<text x="442.2" y="457.2" font-size="4.8" fill="#333" font-family="'Liberation Sans', sans-serif" text-anchor="middle" font-weight="normal" stroke="#333" stroke-width="0.2">H</text>
<line x1="458.6" y1="404" x2="462.5" y2="428.5" stroke="#ee1111" stroke-width="1.8" stroke-dasharray="1.7,2.1"/>
<line x1="426" y1="432.5" x2="441.5" y2="453" stroke="#22dd22" stroke-width="1.8" stroke-dasharray="1.7,2.1"/>
<line x1="444.5" y1="464" x2="426.5" y2="491" stroke="#ee1111" stroke-width="1.8" stroke-dasharray="1.7,2.1"/>
<line x1="431" y1="499.5" x2="480" y2="498.5" stroke="#22dd22" stroke-width="1.8" stroke-dasharray="1.7,2.1"/>
<line x1="460" y1="488" x2="456.5" y2="509.5" stroke="#22dd22" stroke-width="1.8" stroke-dasharray="1.7,2.1"/>
<line x1="460" y1="508" x2="479" y2="476.5" stroke="#c8f5c8" stroke-width="1.1" stroke-dasharray="1.7,2.1"/>
<line x1="482.5" y1="499.5" x2="504" y2="525" stroke="#22dd22" stroke-width="1.8" stroke-dasharray="1.7,2.1"/>
<line x1="499.5" y1="402.5" x2="514.5" y2="433.5" stroke="#b050f0" stroke-width="1.8" stroke-dasharray="1.7,2.1"/>
<line x1="521.5" y1="406.5" x2="517" y2="433.5" stroke="#b050f0" stroke-width="1.8" stroke-dasharray="1.7,2.1"/>
<line x1="518" y1="441" x2="523.8" y2="486.5" stroke="#f5b800" stroke-width="1.8" stroke-dasharray="1.7,2.1"/>
<line x1="582.2" y1="394.5" x2="573.3" y2="409.3" stroke="#22dd22" stroke-width="1.8" stroke-dasharray="1.7,2.1"/>
<line x1="615.5" y1="390.5" x2="574" y2="409.8" stroke="#c8f5c8" stroke-width="1.1" stroke-dasharray="1.7,2.1"/>
<line x1="605.5" y1="423.5" x2="580.5" y2="447.5" stroke="#b050f0" stroke-width="1.8" stroke-dasharray="1.7,2.1"/>
<line x1="559.5" y1="477" x2="579.5" y2="450" stroke="#f8b0f8" stroke-width="1.8" stroke-dasharray="1.7,2.1"/>
<circle cx="422.9" cy="424.3" r="8.7" fill="url(#rg_g)"/>
<text x="422.9" y="423.3" font-size="5.2" fill="#111" font-family="'Liberation Sans', sans-serif" text-anchor="middle" font-weight="normal" stroke="#111" stroke-width="0.18">ASP</text>
<text x="422.9" y="429.2" font-size="5.2" fill="#111" font-family="'Liberation Sans', sans-serif" text-anchor="middle" font-weight="normal" stroke="#111" stroke-width="0.18">A:369</text>
<circle cx="457.9" cy="394.8" r="9" fill="url(#rg_r)"/>
<text x="457.9" y="393.8" font-size="5.2" fill="#111" font-family="'Liberation Sans', sans-serif" text-anchor="middle" font-weight="normal" stroke="#111" stroke-width="0.18">LYS</text>
<text x="457.9" y="399.7" font-size="5.2" fill="#111" font-family="'Liberation Sans', sans-serif" text-anchor="middle" font-weight="normal" stroke="#111" stroke-width="0.18">A:55</text>
<circle cx="495.6" cy="394.2" r="9" fill="url(#rg_p)"/>
<text x="495.6" y="393.2" font-size="5.2" fill="#111" font-family="'Liberation Sans', sans-serif" text-anchor="middle" font-weight="normal" stroke="#111" stroke-width="0.18">VAL</text>
<text x="495.6" y="399.09999999999997" font-size="5.2" fill="#111" font-family="'Liberation Sans', sans-serif" text-anchor="middle" font-weight="normal" stroke="#111" stroke-width="0.18">A:40</text>
<circle cx="523.4" cy="397.8" r="9" fill="url(#rg_p)"/>
<text x="523.4" y="396.8" font-size="5.2" fill="#111" font-family="'Liberation Sans', sans-serif" text-anchor="middle" font-weight="normal" stroke="#111" stroke-width="0.18">LEU</text>
<text x="523.4" y="402.7" font-size="5.2" fill="#111" font-family="'Liberation Sans', sans-serif" text-anchor="middle" font-weight="normal" stroke="#111" stroke-width="0.18">A:161</text>
<circle cx="584.8" cy="385.6" r="9" fill="url(#rg_g)"/>
<text x="584.8" y="384.6" font-size="5.2" fill="#111" font-family="'Liberation Sans', sans-serif" text-anchor="middle" font-weight="normal" stroke="#111" stroke-width="0.18">MET</text>
<text x="584.8" y="390.5" font-size="5.2" fill="#111" font-family="'Liberation Sans', sans-serif" text-anchor="middle" font-weight="normal" stroke="#111" stroke-width="0.18">A:111</text>
<circle cx="623.4" cy="385.3" r="9" fill="url(#rg_lg)"/>
<text x="623.4" y="384.3" font-size="5.2" fill="#111" font-family="'Liberation Sans', sans-serif" text-anchor="middle" font-weight="normal" stroke="#111" stroke-width="0.18">LEU</text>
<text x="623.4" y="390.2" font-size="5.2" fill="#111" font-family="'Liberation Sans', sans-serif" text-anchor="middle" font-weight="normal" stroke="#111" stroke-width="0.18">A:110</text>
<circle cx="611.7" cy="417.4" r="9" fill="url(#rg_p)"/>
<text x="611.7" y="416.4" font-size="5.2" fill="#111" font-family="'Liberation Sans', sans-serif" text-anchor="middle" font-weight="normal" stroke="#111" stroke-width="0.18">ILE</text>
<text x="611.7" y="422.29999999999995" font-size="5.2" fill="#111" font-family="'Liberation Sans', sans-serif" text-anchor="middle" font-weight="normal" stroke="#111" stroke-width="0.18">A:32</text>
<circle cx="422.2" cy="498.6" r="8.6" fill="url(#rg_g)"/>
<text x="422.2" y="497.6" font-size="5.2" fill="#111" font-family="'Liberation Sans', sans-serif" text-anchor="middle" font-weight="normal" stroke="#111" stroke-width="0.18">GLN</text>
<text x="422.2" y="503.5" font-size="5.2" fill="#111" font-family="'Liberation Sans', sans-serif" text-anchor="middle" font-weight="normal" stroke="#111" stroke-width="0.18">A:37</text>
<circle cx="454.9" cy="518" r="8.6" fill="url(#rg_g)"/>
<text x="454.9" y="517.0" font-size="5.2" fill="#111" font-family="'Liberation Sans', sans-serif" text-anchor="middle" font-weight="normal" stroke="#111" stroke-width="0.18">ASN</text>
<text x="454.9" y="522.9" font-size="5.2" fill="#111" font-family="'Liberation Sans', sans-serif" text-anchor="middle" font-weight="normal" stroke="#111" stroke-width="0.18">A:156</text>
<circle cx="510.1" cy="532.5" r="8.6" fill="url(#rg_g)"/>
<text x="510.1" y="531.5" font-size="5.2" fill="#111" font-family="'Liberation Sans', sans-serif" text-anchor="middle" font-weight="normal" stroke="#111" stroke-width="0.18">ALA</text>
<text x="510.1" y="537.4" font-size="5.2" fill="#111" font-family="'Liberation Sans', sans-serif" text-anchor="middle" font-weight="normal" stroke="#111" stroke-width="0.18">A:36</text>
<circle cx="525.7" cy="494.8" r="8.6" fill="url(#rg_o)"/>
<text x="525.7" y="493.8" font-size="5.2" fill="#111" font-family="'Liberation Sans', sans-serif" text-anchor="middle" font-weight="normal" stroke="#111" stroke-width="0.18">MET</text>
<text x="525.7" y="499.7" font-size="5.2" fill="#111" font-family="'Liberation Sans', sans-serif" text-anchor="middle" font-weight="normal" stroke="#111" stroke-width="0.18">A:108</text>
<circle cx="554.5" cy="483.7" r="8.4" fill="url(#rg_pk)"/>
<text x="554.5" y="482.7" font-size="5.2" fill="#111" font-family="'Liberation Sans', sans-serif" text-anchor="middle" font-weight="normal" stroke="#111" stroke-width="0.18">VAL</text>
<text x="554.5" y="488.59999999999997" font-size="5.2" fill="#111" font-family="'Liberation Sans', sans-serif" text-anchor="middle" font-weight="normal" stroke="#111" stroke-width="0.18">A:150</text>
<text x="354.7" y="547.4" font-size="5.6" fill="#000" font-family="'Liberation Sans', sans-serif" text-anchor="start" font-weight="bold" textLength="32.8" lengthAdjust="spacingAndGlyphs">Interactions</text>
<rect x="354.9" y="553.1" width="13.2" height="7.4" fill="#00ee00" stroke="#8a8a8a" stroke-width="0.8"/>
<text x="373.1" y="557.6" font-size="5.3" fill="#000" font-family="'Liberation Sans', sans-serif" text-anchor="start" font-weight="normal" textLength="65.8" lengthAdjust="spacingAndGlyphs">Conventional Hydrogen Bond</text>
<rect x="354.9" y="564.1" width="13.2" height="7.4" fill="#ccffcc" stroke="#8a8a8a" stroke-width="0.8"/>
<text x="373.1" y="568.6" font-size="5.3" fill="#000" font-family="'Liberation Sans', sans-serif" text-anchor="start" font-weight="normal" textLength="52.6" lengthAdjust="spacingAndGlyphs">Carbon Hydrogen Bond</text>
<rect x="354.9" y="575.1" width="13.2" height="7.4" fill="#ff0000" stroke="#8a8a8a" stroke-width="0.8"/>
<text x="373.1" y="579.6" font-size="5.3" fill="#000" font-family="'Liberation Sans', sans-serif" text-anchor="start" font-weight="normal" textLength="58.1" lengthAdjust="spacingAndGlyphs">Unfavorable Donor-Donor</text>
<rect x="354.9" y="586.1" width="13.2" height="7.4" fill="#ff0000" stroke="#8a8a8a" stroke-width="0.8"/>
<text x="373.1" y="590.6" font-size="5.3" fill="#000" font-family="'Liberation Sans', sans-serif" text-anchor="start" font-weight="normal" textLength="71.3" lengthAdjust="spacingAndGlyphs">Unfavorable Acceptor-Acceptor</text>
<rect x="523.5" y="553.3" width="13.6" height="7.4" fill="#cc66ff" stroke="#8a8a8a" stroke-width="0.8"/>
<text x="541.8" y="557.9" font-size="5.3" fill="#000" font-family="'Liberation Sans', sans-serif" text-anchor="start" font-weight="normal" textLength="19.2" lengthAdjust="spacingAndGlyphs">Pi-Sigma</text>
<rect x="523.5" y="564.1" width="13.6" height="7.4" fill="#ffc000" stroke="#8a8a8a" stroke-width="0.8"/>
<text x="541.8" y="568.7" font-size="5.3" fill="#000" font-family="'Liberation Sans', sans-serif" text-anchor="start" font-weight="normal" textLength="18.8" lengthAdjust="spacingAndGlyphs">Pi-Sulfur</text>
<rect x="523.5" y="575.0" width="13.6" height="7.4" fill="#ffccff" stroke="#8a8a8a" stroke-width="0.8"/>
<text x="541.8" y="579.6" font-size="5.3" fill="#000" font-family="'Liberation Sans', sans-serif" text-anchor="start" font-weight="normal" textLength="16.5" lengthAdjust="spacingAndGlyphs">Pi-Alkyl</text>
</svg></body></html>
